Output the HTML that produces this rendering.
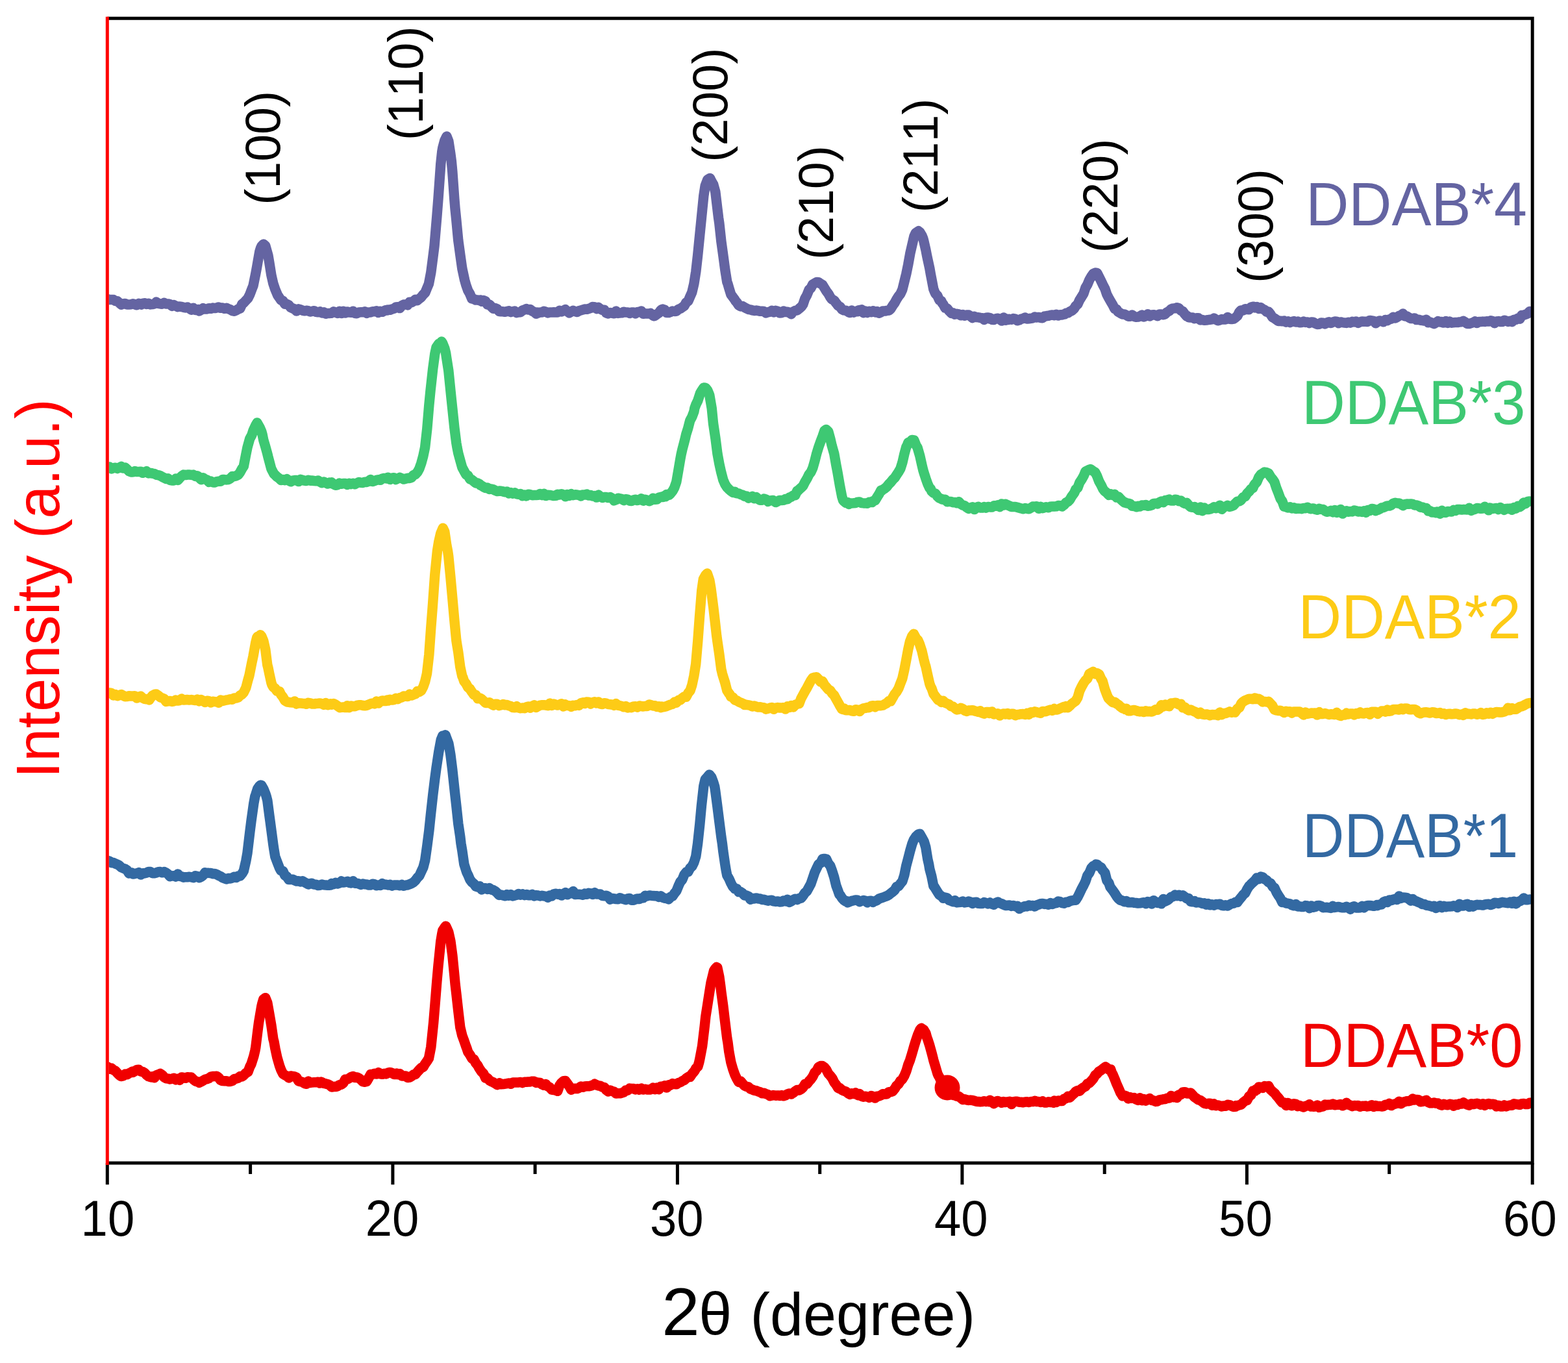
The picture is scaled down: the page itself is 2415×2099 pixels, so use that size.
<!DOCTYPE html>
<html><head><meta charset="utf-8"><title>XRD patterns of DDAB samples</title>
<style>html,body{margin:0;padding:0;background:#fff;overflow:hidden;} svg{display:block;font-kerning:none;}</style>
</head><body>
<svg width="2415" height="2099" viewBox="0 0 2415 2099" font-family="'Liberation Sans', Arial, Helvetica, sans-serif">
<rect width="2415" height="2099" fill="#fff"/>
<defs><clipPath id="plot"><rect x="167.6" y="0" width="2192" height="2099"/></clipPath></defs>
<g clip-path="url(#plot)" fill="none" stroke-width="15.5" stroke-linejoin="round" stroke-linecap="round">
<path d="M165.8,460.6 L168.8,461.6 L171.8,461.6 L174.8,461.6 L177.5,463.5 L180.8,463.7 L183.8,466.4 L186.8,469.2 L189.0,468.0 L192.8,467.5 L195.8,469.0 L198.8,469.0 L201.8,468.8 L204.8,467.7 L207.8,468.8 L210.8,469.8 L213.8,467.4 L216.8,468.4 L218.0,469.0 L219.8,467.4 L222.8,466.7 L225.8,468.5 L228.8,467.2 L231.8,468.9 L234.8,468.6 L237.8,468.0 L240.8,465.1 L243.8,467.4 L247.0,468.0 L249.8,468.2 L252.8,466.4 L255.8,468.0 L258.8,467.9 L261.8,468.6 L264.8,471.3 L267.8,469.6 L270.8,471.1 L273.8,472.7 L276.0,472.0 L279.8,472.5 L282.8,473.3 L285.8,473.9 L288.8,473.0 L291.8,475.1 L294.8,477.2 L297.8,474.2 L300.8,477.4 L303.8,476.7 L305.5,476.6 L306.8,479.0 L309.8,477.3 L312.8,474.7 L315.8,475.9 L318.8,476.0 L321.8,474.7 L324.8,475.3 L327.8,474.0 L330.8,474.6 L334.6,473.7 L336.8,473.0 L339.8,474.3 L342.8,474.0 L345.8,475.3 L348.8,474.3 L351.8,475.7 L354.8,476.8 L357.8,478.6 L360.8,479.3 L363.7,478.0 L366.8,476.0 L369.8,475.1 L372.8,468.3 L375.8,466.0 L378.0,463.5 L381.8,459.5 L384.8,453.5 L387.8,445.6 L390.0,440.0 L393.8,421.2 L395.7,411.0 L396.8,404.5 L399.8,387.6 L401.5,382.0 L402.8,379.2 L405.9,376.0 L408.8,378.6 L411.8,389.4 L413.0,393.7 L414.8,404.2 L417.8,423.3 L419.0,428.6 L420.8,436.5 L423.8,445.5 L427.7,454.8 L429.8,457.8 L432.8,462.3 L435.8,463.4 L438.8,468.3 L441.8,468.3 L444.8,469.9 L447.8,473.5 L451.0,475.0 L453.8,475.9 L456.8,479.1 L459.8,475.9 L462.8,476.7 L465.8,478.1 L468.8,478.8 L471.8,478.3 L474.8,478.7 L477.8,480.1 L480.0,479.5 L483.8,478.7 L486.8,480.3 L489.8,480.8 L492.8,479.9 L495.8,481.9 L498.8,480.8 L501.8,483.3 L504.8,482.5 L507.8,482.5 L509.0,482.4 L510.8,482.2 L513.8,479.9 L516.8,480.8 L519.8,482.4 L522.8,479.2 L525.8,482.6 L528.8,479.2 L531.8,482.1 L534.8,480.0 L538.0,481.0 L540.8,481.2 L543.8,479.2 L546.8,482.5 L549.8,482.7 L552.8,480.9 L555.8,480.7 L558.8,480.8 L561.8,479.8 L564.8,482.3 L567.0,481.0 L570.8,480.9 L573.8,479.8 L576.8,479.8 L579.8,478.7 L582.8,481.4 L585.8,479.4 L588.8,480.3 L591.8,478.7 L594.8,477.4 L596.4,478.0 L597.8,477.1 L600.8,477.2 L603.8,476.0 L606.8,475.3 L609.8,473.0 L612.8,472.7 L615.8,474.6 L618.8,470.7 L621.8,469.1 L625.5,469.0 L627.8,469.8 L630.8,465.3 L633.8,465.7 L636.8,464.0 L639.8,461.3 L642.8,462.7 L645.8,459.9 L648.8,457.7 L651.8,453.7 L654.8,450.7 L657.8,443.4 L660.4,437.3 L663.8,419.5 L666.8,396.6 L669.0,379.0 L672.8,334.0 L675.0,306.0 L678.8,252.4 L680.8,233.6 L681.8,227.8 L684.8,216.4 L688.0,210.0 L690.8,217.3 L693.8,236.7 L695.3,248.0 L696.8,264.2 L699.8,306.4 L701.0,321.0 L702.8,338.7 L705.8,370.4 L707.0,379.0 L708.8,392.2 L711.8,413.5 L715.7,431.5 L717.8,439.0 L720.8,447.5 L723.8,452.7 L726.8,460.0 L730.0,460.6 L732.8,462.1 L735.8,462.0 L738.8,462.8 L740.0,462.0 L741.8,464.3 L744.8,462.6 L747.8,463.9 L750.8,469.0 L753.8,469.0 L756.5,472.0 L759.8,475.3 L762.8,474.6 L765.8,475.9 L769.0,479.5 L771.8,479.8 L774.8,479.8 L777.8,480.3 L780.8,479.5 L783.8,478.8 L786.8,480.6 L789.8,479.7 L792.8,479.0 L795.8,481.6 L798.0,481.0 L801.8,480.8 L804.8,477.9 L807.8,477.0 L810.8,475.6 L812.7,476.6 L813.8,476.9 L816.8,476.5 L819.8,479.1 L822.8,480.4 L825.8,483.3 L827.3,481.0 L828.8,482.1 L831.8,480.9 L834.8,481.0 L837.8,479.3 L840.8,480.4 L843.8,481.9 L846.8,480.9 L849.8,481.1 L852.8,480.7 L856.4,481.0 L858.8,481.0 L861.8,478.3 L864.8,480.0 L867.8,478.3 L870.8,476.7 L873.8,479.7 L876.8,481.8 L879.8,480.0 L882.8,478.3 L885.5,479.5 L888.8,480.4 L891.8,478.7 L894.8,477.8 L897.8,476.9 L900.8,476.1 L903.8,476.3 L906.8,475.3 L909.8,474.3 L912.8,472.5 L914.6,473.7 L915.8,472.9 L918.8,475.5 L921.8,473.5 L924.8,476.0 L927.8,477.4 L930.8,477.2 L933.8,482.1 L936.8,482.9 L939.8,481.4 L943.7,482.4 L945.8,482.8 L948.8,479.1 L951.8,482.4 L954.8,481.9 L957.8,481.8 L960.8,480.2 L963.8,481.0 L966.8,480.9 L969.8,482.5 L972.8,481.0 L975.8,481.0 L978.8,482.9 L981.8,480.4 L984.8,480.7 L987.8,479.1 L990.8,483.3 L993.8,482.8 L996.8,483.0 L999.8,483.0 L1001.9,482.4 L1005.8,486.0 L1007.7,486.8 L1008.8,486.3 L1011.8,483.9 L1014.8,481.8 L1017.8,477.7 L1019.3,476.6 L1020.8,476.1 L1023.8,477.3 L1026.8,481.6 L1029.8,481.5 L1031.0,481.0 L1032.8,480.5 L1035.8,479.1 L1038.8,479.4 L1041.8,479.3 L1044.8,476.4 L1048.4,475.0 L1050.8,473.3 L1053.8,471.2 L1056.8,465.9 L1060.0,463.5 L1062.8,456.9 L1065.8,450.1 L1068.8,437.3 L1071.8,418.4 L1074.6,393.7 L1077.8,361.5 L1080.4,335.5 L1083.8,301.5 L1086.2,286.0 L1089.8,276.6 L1093.5,274.4 L1095.8,279.1 L1098.8,284.4 L1100.8,291.8 L1101.8,295.4 L1104.8,320.7 L1106.6,335.5 L1107.8,343.7 L1110.8,371.4 L1113.9,393.7 L1116.8,415.5 L1119.8,434.2 L1121.0,437.3 L1122.8,443.7 L1125.8,453.6 L1128.8,457.5 L1131.8,461.6 L1132.8,463.5 L1134.8,465.6 L1137.8,470.1 L1140.8,471.9 L1143.8,471.6 L1146.8,473.4 L1149.8,475.1 L1153.0,476.6 L1155.8,476.9 L1158.8,477.9 L1161.8,478.5 L1164.8,478.1 L1167.8,478.7 L1170.8,479.3 L1173.8,479.2 L1176.4,479.5 L1179.8,482.0 L1182.8,480.7 L1185.8,480.3 L1188.8,478.4 L1191.8,481.0 L1194.8,478.4 L1197.8,479.2 L1200.8,482.0 L1203.8,481.8 L1205.5,481.0 L1206.8,478.9 L1209.8,480.6 L1212.8,480.2 L1215.8,481.8 L1218.8,483.7 L1220.0,481.0 L1221.8,479.9 L1224.8,478.4 L1227.8,477.9 L1230.8,475.4 L1234.6,472.0 L1236.8,468.7 L1239.8,459.8 L1242.8,454.4 L1246.2,446.0 L1248.8,443.7 L1251.8,437.9 L1254.8,436.2 L1257.9,434.4 L1260.8,434.7 L1263.8,436.9 L1266.8,438.7 L1269.5,443.0 L1272.8,448.3 L1275.8,452.3 L1278.8,457.8 L1281.0,460.6 L1284.8,462.7 L1287.8,466.8 L1290.8,470.6 L1292.8,472.0 L1293.8,472.3 L1296.8,476.5 L1299.8,477.9 L1302.8,478.2 L1305.8,479.7 L1307.4,481.0 L1308.8,481.5 L1311.8,478.1 L1314.8,481.1 L1317.8,479.3 L1320.8,479.7 L1321.9,478.0 L1323.8,477.7 L1326.8,476.9 L1329.8,481.7 L1332.8,478.9 L1335.8,481.5 L1338.8,479.3 L1341.8,480.7 L1344.8,478.8 L1347.8,480.5 L1349.0,481.0 L1350.8,479.5 L1353.8,482.1 L1356.8,481.0 L1359.8,478.9 L1362.8,479.1 L1365.8,478.4 L1369.5,478.0 L1371.8,475.6 L1374.8,470.8 L1378.0,466.4 L1380.8,461.1 L1383.8,456.3 L1386.8,452.6 L1389.8,446.0 L1392.8,433.8 L1395.8,421.6 L1398.6,408.0 L1401.8,390.3 L1404.4,379.0 L1407.8,364.2 L1410.2,358.8 L1414.6,355.8 L1416.8,357.7 L1419.8,362.5 L1421.8,367.5 L1422.8,371.3 L1425.8,384.4 L1427.6,393.7 L1428.8,399.4 L1431.8,413.2 L1433.5,422.8 L1434.8,429.4 L1437.8,445.2 L1439.3,449.0 L1440.8,452.2 L1443.8,455.4 L1446.8,462.2 L1449.8,463.6 L1451.0,466.4 L1452.8,468.7 L1455.8,474.3 L1458.8,475.0 L1461.8,478.8 L1465.5,482.4 L1467.8,481.7 L1470.8,484.2 L1473.8,483.3 L1476.8,483.8 L1479.8,485.8 L1482.8,484.5 L1485.8,486.3 L1488.8,484.9 L1491.8,485.0 L1494.6,486.8 L1497.8,489.5 L1500.8,487.4 L1503.8,488.6 L1506.8,488.7 L1509.8,489.4 L1512.8,489.8 L1515.8,492.4 L1518.8,489.3 L1521.8,489.0 L1523.7,491.0 L1524.8,489.5 L1527.8,492.2 L1530.8,492.5 L1533.8,490.6 L1536.8,490.3 L1539.8,491.8 L1542.8,494.0 L1545.8,489.1 L1548.8,493.2 L1551.8,491.3 L1552.8,492.6 L1554.8,491.3 L1557.8,492.2 L1560.8,490.6 L1563.8,491.1 L1566.8,493.8 L1569.8,492.9 L1572.8,491.2 L1575.8,490.4 L1578.8,489.0 L1581.9,491.0 L1584.8,490.7 L1587.8,490.3 L1590.8,489.8 L1593.8,488.1 L1596.8,488.9 L1599.8,488.4 L1602.8,489.5 L1605.8,489.7 L1608.8,486.9 L1611.0,486.8 L1614.8,486.3 L1617.8,485.4 L1620.8,485.0 L1623.8,485.7 L1626.8,484.2 L1629.8,486.0 L1632.8,484.8 L1635.8,484.9 L1638.8,483.9 L1640.0,483.9 L1641.8,482.3 L1644.8,481.9 L1647.8,479.7 L1650.8,478.5 L1654.6,475.0 L1656.8,471.1 L1659.8,468.6 L1662.8,461.9 L1665.8,457.3 L1669.0,452.0 L1671.8,443.3 L1674.8,438.3 L1677.8,431.1 L1680.8,425.7 L1683.8,421.5 L1687.2,419.9 L1689.8,420.6 L1692.8,426.5 L1695.3,431.5 L1698.8,438.9 L1701.8,444.6 L1704.8,453.5 L1707.0,457.7 L1710.8,464.5 L1713.8,469.5 L1716.8,475.4 L1719.8,476.2 L1721.5,479.5 L1722.8,480.6 L1725.8,482.3 L1728.8,483.9 L1731.8,483.9 L1734.8,485.4 L1737.8,487.2 L1740.8,487.3 L1741.9,486.8 L1743.8,485.0 L1746.8,487.4 L1749.8,488.2 L1752.8,488.0 L1755.8,487.1 L1758.8,484.9 L1761.8,487.9 L1764.8,486.6 L1767.8,483.8 L1771.0,486.8 L1773.8,484.9 L1776.8,484.8 L1779.8,485.1 L1782.8,486.7 L1785.8,484.0 L1788.8,483.9 L1791.8,484.7 L1794.8,483.6 L1797.0,481.0 L1800.8,479.0 L1803.8,476.0 L1806.8,474.9 L1809.8,474.8 L1813.0,473.7 L1815.8,474.8 L1818.8,478.3 L1821.8,479.5 L1824.8,483.7 L1827.8,487.1 L1829.0,486.8 L1830.8,488.7 L1833.8,488.9 L1836.8,489.0 L1839.8,490.7 L1842.8,489.8 L1845.8,489.7 L1848.8,492.9 L1851.8,492.6 L1854.8,493.3 L1858.3,493.0 L1860.8,492.6 L1863.8,492.2 L1866.8,491.9 L1869.8,490.1 L1872.8,492.3 L1875.8,493.7 L1878.8,492.9 L1881.8,491.6 L1884.8,492.1 L1887.5,492.0 L1890.8,488.4 L1893.8,491.3 L1896.8,491.6 L1899.8,491.1 L1902.0,489.7 L1905.8,486.6 L1908.8,480.5 L1911.0,478.0 L1914.8,477.9 L1917.8,475.7 L1919.4,476.0 L1920.8,476.6 L1923.8,476.7 L1926.8,473.0 L1929.8,472.3 L1931.4,472.2 L1932.8,473.9 L1935.8,472.7 L1938.8,475.4 L1941.8,473.6 L1944.8,475.9 L1947.8,477.3 L1948.8,478.0 L1950.8,480.5 L1953.8,480.1 L1956.8,483.9 L1959.8,488.6 L1962.8,490.1 L1966.3,492.6 L1968.8,494.4 L1971.8,494.3 L1974.8,494.7 L1977.8,494.0 L1980.8,496.1 L1983.8,494.9 L1986.8,496.7 L1989.6,495.5 L1992.8,494.6 L1995.8,496.0 L1998.8,495.1 L2001.8,496.8 L2004.8,496.5 L2007.8,495.1 L2010.8,496.4 L2013.8,496.0 L2016.8,497.6 L2019.8,495.9 L2022.8,496.2 L2025.8,498.2 L2028.8,499.5 L2031.8,499.3 L2034.8,497.0 L2037.8,497.2 L2040.8,498.8 L2043.8,496.8 L2046.8,495.8 L2047.8,497.0 L2049.8,497.5 L2052.8,496.0 L2055.8,495.0 L2058.8,495.2 L2061.8,497.7 L2064.8,495.9 L2067.8,496.6 L2070.8,497.0 L2073.8,497.4 L2076.8,496.2 L2079.8,497.1 L2082.8,495.3 L2085.8,495.9 L2088.8,495.0 L2091.8,497.4 L2094.8,495.9 L2097.8,495.0 L2100.8,495.3 L2103.8,495.3 L2106.0,495.5 L2109.8,493.4 L2112.8,493.9 L2115.8,494.4 L2118.8,497.7 L2121.8,495.5 L2124.8,493.9 L2127.8,494.5 L2130.8,495.7 L2133.8,492.5 L2135.0,492.6 L2136.8,493.7 L2139.8,491.9 L2142.8,491.0 L2145.8,488.3 L2148.8,489.9 L2151.8,488.5 L2154.8,486.4 L2158.3,485.3 L2160.8,483.1 L2163.8,486.9 L2166.8,486.9 L2169.8,488.9 L2172.8,490.5 L2175.8,490.5 L2178.8,489.9 L2181.6,492.6 L2184.8,492.2 L2187.8,493.2 L2190.8,493.4 L2193.8,494.1 L2196.8,492.2 L2199.8,496.8 L2202.8,496.1 L2205.8,497.4 L2208.8,498.7 L2211.8,496.6 L2214.8,494.6 L2217.8,495.9 L2220.8,495.5 L2222.3,497.0 L2223.8,497.1 L2226.8,494.6 L2229.8,497.4 L2232.8,495.1 L2235.8,497.2 L2238.8,496.7 L2241.8,496.4 L2244.8,496.6 L2247.8,495.9 L2250.8,495.7 L2253.8,494.4 L2256.8,496.2 L2259.8,498.4 L2262.8,498.5 L2265.8,497.6 L2268.8,496.7 L2271.8,495.0 L2274.8,497.4 L2277.8,495.5 L2280.5,495.5 L2283.8,495.1 L2286.8,495.4 L2289.8,494.7 L2292.8,495.1 L2295.8,493.8 L2298.8,494.6 L2301.8,497.8 L2304.8,494.9 L2307.8,494.6 L2310.8,495.4 L2313.8,495.5 L2316.8,493.2 L2319.8,494.2 L2322.8,495.4 L2325.8,494.4 L2327.0,494.0 L2328.8,495.7 L2331.8,492.3 L2334.8,492.3 L2337.8,490.3 L2340.8,491.2 L2343.8,485.4 L2346.8,485.2 L2350.3,483.9 L2352.8,483.0 L2356.0,479.5" stroke="#6464A2"/>
<path d="M165.8,721.0 L168.8,719.1 L171.8,721.9 L174.8,720.6 L177.8,720.2 L180.8,721.6 L183.8,719.9 L186.8,718.5 L189.0,721.0 L192.8,720.1 L195.8,722.8 L198.8,725.7 L201.8,727.0 L203.6,727.0 L204.8,726.9 L207.8,725.5 L210.8,726.6 L213.8,726.5 L216.8,726.2 L219.8,728.3 L222.8,727.1 L225.8,725.6 L228.8,728.9 L232.7,728.4 L234.8,729.1 L237.8,729.6 L240.8,731.2 L243.8,731.6 L247.3,732.8 L249.8,734.3 L252.8,735.9 L255.8,737.5 L258.8,736.8 L261.8,739.4 L264.7,740.0 L267.8,739.9 L270.8,737.1 L273.8,739.5 L276.8,736.2 L279.8,733.1 L282.8,731.0 L285.8,731.6 L288.8,731.1 L291.0,731.0 L294.8,731.4 L297.8,731.1 L300.8,733.4 L303.8,732.7 L305.5,734.0 L306.8,735.6 L309.8,738.7 L312.8,735.8 L315.8,738.0 L318.8,739.1 L321.8,742.4 L324.8,741.1 L328.7,743.0 L330.8,742.9 L333.8,741.6 L336.8,741.2 L339.8,741.3 L342.8,738.6 L345.8,738.6 L348.8,738.9 L351.8,738.5 L354.8,736.8 L357.8,733.6 L360.8,733.7 L363.7,732.8 L366.8,731.3 L369.8,727.3 L372.8,721.8 L375.3,718.0 L378.8,699.9 L381.0,689.0 L384.8,675.4 L387.8,670.0 L390.0,663.0 L393.8,654.9 L396.0,651.0 L399.8,657.7 L402.8,664.6 L404.0,668.8 L405.8,677.7 L408.8,687.9 L411.8,698.8 L413.0,703.7 L414.8,710.4 L417.8,721.9 L420.8,727.6 L421.9,729.8 L423.8,731.4 L426.8,734.4 L429.8,736.5 L432.8,739.4 L436.4,738.6 L438.8,739.7 L441.8,737.6 L444.8,740.1 L447.8,741.7 L450.8,740.2 L453.8,739.6 L456.8,739.6 L459.8,741.6 L462.8,738.4 L465.8,739.4 L468.8,740.1 L471.8,740.6 L474.8,739.2 L477.8,740.3 L480.0,740.0 L483.8,740.5 L486.8,740.7 L489.8,740.0 L492.8,742.0 L495.8,743.7 L498.8,742.1 L501.8,743.5 L504.8,745.0 L507.8,743.1 L509.0,744.4 L510.8,743.1 L513.8,745.8 L516.8,747.2 L519.8,746.8 L522.8,744.1 L525.8,745.3 L528.8,744.5 L531.8,744.5 L534.8,746.3 L538.0,744.4 L540.8,745.6 L543.8,744.2 L546.8,745.7 L549.8,743.9 L552.8,742.5 L555.8,743.3 L558.8,743.5 L561.8,742.2 L564.8,742.4 L567.0,741.5 L570.8,738.4 L573.8,741.5 L576.8,740.6 L579.8,739.4 L582.8,738.7 L585.8,739.3 L588.8,737.0 L591.8,736.4 L594.8,736.8 L596.4,737.0 L597.8,735.3 L600.8,738.4 L603.8,736.2 L606.8,735.7 L609.8,738.5 L612.8,736.9 L615.8,735.4 L618.8,736.6 L621.8,738.1 L625.5,737.0 L627.8,736.3 L630.8,736.4 L633.8,735.4 L636.8,731.7 L639.8,730.5 L643.0,727.0 L645.8,721.8 L648.8,713.4 L651.8,702.4 L654.6,689.0 L657.8,660.3 L660.8,624.3 L663.0,601.8 L666.8,567.2 L669.8,545.0 L672.0,535.0 L675.8,529.5 L678.8,529.0 L680.0,526.0 L681.8,528.8 L684.8,536.3 L686.6,543.6 L687.8,551.7 L690.8,570.7 L693.8,600.5 L695.4,616.0 L696.8,629.4 L699.8,658.1 L702.8,682.0 L704.0,689.0 L705.8,698.0 L708.8,709.0 L711.8,719.8 L715.7,727.0 L717.8,730.8 L720.8,732.4 L723.8,737.8 L726.8,738.8 L730.0,741.5 L732.8,743.9 L735.8,744.1 L738.8,745.7 L740.0,747.3 L741.8,748.0 L744.8,749.9 L747.8,751.6 L750.8,751.1 L753.8,753.5 L756.5,753.0 L759.8,753.8 L762.8,755.4 L765.8,756.6 L769.0,756.0 L771.8,756.2 L774.8,756.9 L777.8,757.7 L780.8,757.0 L783.8,759.8 L786.8,758.6 L789.8,760.1 L792.8,758.9 L795.8,760.8 L798.8,761.2 L801.8,760.5 L804.8,763.8 L807.8,762.0 L810.8,763.9 L812.7,761.9 L813.8,761.2 L816.8,761.7 L819.8,762.8 L822.8,762.5 L825.8,762.6 L828.8,762.3 L831.8,760.6 L834.8,762.6 L837.8,760.3 L840.8,763.5 L843.8,762.3 L846.8,762.4 L849.8,763.0 L852.8,763.6 L856.4,763.3 L858.8,761.2 L861.8,762.0 L864.8,760.7 L867.8,761.9 L870.8,764.8 L873.8,761.5 L876.8,763.4 L879.8,760.8 L882.8,762.7 L885.8,761.8 L888.8,762.0 L891.8,762.6 L894.8,764.0 L897.0,761.9 L900.8,762.1 L903.8,761.0 L906.8,763.1 L909.8,762.4 L912.8,764.1 L915.8,763.5 L918.8,766.1 L921.8,762.1 L924.8,764.6 L927.8,766.5 L930.8,765.6 L933.8,765.5 L936.8,766.6 L939.8,765.6 L943.7,767.7 L945.8,770.8 L948.8,769.6 L951.8,767.2 L954.8,767.8 L957.8,768.6 L960.8,770.6 L963.8,768.7 L966.8,769.1 L969.8,771.2 L972.8,771.4 L975.8,770.0 L978.8,769.2 L981.5,770.6 L984.8,769.7 L987.8,767.8 L990.8,771.2 L993.8,769.3 L996.8,770.4 L999.8,771.7 L1002.8,770.5 L1005.8,767.3 L1008.8,769.2 L1011.8,769.0 L1014.8,766.2 L1017.8,765.3 L1020.8,765.6 L1023.8,763.2 L1025.0,764.8 L1026.8,761.4 L1029.8,761.4 L1031.0,762.0 L1032.8,760.1 L1036.0,756.0 L1038.8,750.8 L1040.5,745.8 L1041.8,742.0 L1045.2,722.3 L1047.8,707.0 L1049.3,698.9 L1050.8,692.4 L1053.8,681.0 L1055.2,675.5 L1056.8,668.6 L1059.8,659.1 L1061.6,652.0 L1062.8,647.4 L1065.8,642.0 L1068.8,634.1 L1069.8,628.6 L1071.8,623.2 L1074.8,617.0 L1078.6,605.2 L1080.8,601.6 L1083.8,597.2 L1085.0,597.0 L1086.8,597.5 L1089.8,601.2 L1091.5,605.2 L1092.8,608.7 L1096.2,628.6 L1098.5,652.0 L1102.0,675.5 L1105.0,698.9 L1107.8,714.1 L1109.6,722.3 L1110.8,727.6 L1113.8,738.9 L1116.7,745.8 L1119.8,750.6 L1122.8,753.6 L1125.0,755.5 L1128.8,758.4 L1131.8,757.3 L1132.8,759.0 L1134.8,759.8 L1137.8,760.0 L1140.8,761.4 L1143.8,762.2 L1146.8,764.2 L1149.8,764.1 L1152.8,767.1 L1155.8,765.6 L1158.8,764.4 L1161.9,767.7 L1164.8,765.7 L1167.8,768.5 L1170.8,770.3 L1173.8,770.2 L1176.8,768.1 L1179.8,769.1 L1182.8,772.4 L1185.8,770.9 L1188.8,770.6 L1191.0,770.6 L1194.8,773.5 L1197.8,772.0 L1200.8,770.4 L1203.8,770.4 L1206.8,770.3 L1209.8,768.5 L1211.3,769.0 L1212.8,768.7 L1215.8,766.2 L1218.8,765.2 L1221.8,762.9 L1224.8,762.7 L1227.8,756.0 L1228.8,756.0 L1230.8,753.8 L1233.8,751.2 L1236.8,748.2 L1239.8,742.3 L1242.8,737.3 L1245.8,731.1 L1249.0,727.0 L1251.8,720.6 L1254.8,710.2 L1257.8,698.2 L1260.8,688.5 L1263.7,680.4 L1266.8,672.3 L1269.8,663.5 L1272.4,661.5 L1275.8,664.7 L1278.8,675.8 L1281.2,686.2 L1284.8,698.9 L1287.8,716.1 L1289.9,727.0 L1293.8,749.6 L1296.8,764.9 L1298.6,770.6 L1299.8,771.9 L1302.8,774.5 L1305.8,773.9 L1307.4,776.4 L1308.8,775.3 L1311.8,774.9 L1314.8,774.8 L1317.8,774.5 L1320.0,773.5 L1323.8,772.9 L1326.8,774.6 L1329.8,774.9 L1332.8,774.9 L1335.8,775.2 L1338.8,773.3 L1341.8,773.3 L1343.3,773.5 L1344.8,771.5 L1347.8,770.8 L1350.8,765.7 L1353.8,761.1 L1356.8,755.1 L1357.8,756.0 L1359.8,753.9 L1362.8,752.2 L1365.8,749.6 L1368.8,745.8 L1371.8,742.8 L1374.8,738.9 L1378.2,735.7 L1380.8,731.5 L1383.8,727.0 L1386.8,721.9 L1389.8,712.4 L1392.8,699.3 L1395.8,688.2 L1397.0,686.2 L1398.8,681.6 L1401.8,680.5 L1404.4,677.5 L1407.8,678.0 L1410.8,685.5 L1413.0,689.0 L1416.8,702.1 L1419.8,715.6 L1421.8,724.0 L1422.8,727.4 L1425.8,736.7 L1428.8,745.3 L1431.8,751.7 L1433.5,753.0 L1434.8,756.4 L1437.8,759.3 L1440.8,760.0 L1443.8,764.4 L1446.8,767.2 L1449.8,768.1 L1451.0,769.0 L1452.8,769.2 L1455.8,769.3 L1458.8,772.8 L1461.8,772.4 L1464.8,772.4 L1467.8,773.8 L1471.3,773.5 L1473.8,774.7 L1476.8,772.7 L1479.8,776.3 L1482.8,778.0 L1485.8,778.8 L1488.8,781.4 L1491.8,783.4 L1494.6,782.2 L1497.8,780.8 L1500.8,784.6 L1503.8,781.5 L1506.8,780.4 L1509.8,782.0 L1512.8,782.1 L1515.8,780.5 L1518.8,782.1 L1521.8,780.4 L1523.7,780.8 L1524.8,780.9 L1527.8,781.1 L1530.8,778.8 L1533.8,779.2 L1536.8,777.9 L1539.8,780.7 L1542.8,775.9 L1545.8,778.1 L1547.0,776.4 L1548.8,776.3 L1551.8,777.9 L1554.8,779.0 L1557.8,780.5 L1560.8,780.5 L1563.8,780.4 L1566.8,781.2 L1570.2,782.2 L1572.8,782.9 L1575.8,783.8 L1578.8,782.6 L1581.8,783.3 L1584.8,783.8 L1587.8,782.1 L1590.8,780.0 L1593.8,780.2 L1596.8,779.8 L1599.8,783.3 L1602.8,780.2 L1605.8,782.6 L1608.8,781.6 L1611.0,780.8 L1614.8,781.8 L1617.8,780.3 L1620.8,779.9 L1623.8,780.0 L1626.8,779.8 L1629.8,778.5 L1632.8,778.7 L1635.8,780.1 L1637.0,777.9 L1638.8,777.6 L1641.8,774.1 L1644.8,772.4 L1647.8,769.4 L1650.8,764.2 L1654.6,759.0 L1656.8,753.7 L1659.8,751.2 L1662.8,743.1 L1665.8,738.7 L1669.1,732.8 L1671.8,726.1 L1674.8,724.5 L1677.8,723.2 L1679.3,722.6 L1680.8,723.3 L1683.8,725.6 L1686.8,727.4 L1689.5,732.8 L1692.8,741.4 L1695.8,746.7 L1698.8,753.0 L1701.0,756.0 L1704.8,759.1 L1707.8,762.4 L1710.8,760.9 L1713.8,762.6 L1715.7,761.9 L1716.8,761.3 L1719.8,766.0 L1722.8,765.0 L1725.8,768.5 L1728.8,771.3 L1731.8,773.9 L1733.0,773.5 L1734.8,774.9 L1737.8,775.2 L1740.8,776.2 L1743.8,779.3 L1746.8,779.4 L1750.6,780.8 L1752.8,779.2 L1755.8,780.0 L1758.8,778.1 L1761.8,778.3 L1764.8,777.5 L1767.8,779.2 L1770.8,778.9 L1773.9,777.9 L1776.8,775.4 L1779.8,775.3 L1782.8,776.0 L1785.8,773.4 L1788.8,772.0 L1791.8,773.5 L1794.8,770.4 L1797.2,770.6 L1800.8,769.0 L1803.8,771.1 L1806.8,771.1 L1809.8,769.2 L1812.8,769.7 L1814.6,771.0 L1815.8,771.8 L1818.8,771.1 L1821.8,773.8 L1824.8,775.4 L1827.8,774.4 L1830.8,778.1 L1833.8,780.8 L1836.8,781.2 L1839.8,780.5 L1842.8,783.3 L1844.0,783.7 L1845.8,785.6 L1848.8,781.0 L1851.8,786.7 L1854.8,782.1 L1857.8,784.4 L1860.8,784.6 L1863.8,784.0 L1866.8,782.8 L1869.8,780.9 L1872.8,782.7 L1875.8,780.8 L1878.8,778.2 L1881.8,784.2 L1884.8,781.3 L1887.7,780.0 L1890.8,778.3 L1893.8,780.4 L1896.8,779.5 L1899.8,778.3 L1902.8,775.0 L1905.8,772.1 L1908.8,771.7 L1911.0,770.6 L1914.8,765.6 L1917.8,764.7 L1920.8,759.8 L1923.8,756.9 L1926.8,753.0 L1929.8,751.6 L1931.4,747.3 L1932.8,745.4 L1935.8,742.2 L1938.8,734.8 L1941.8,730.8 L1944.8,729.1 L1947.4,727.0 L1950.8,727.7 L1953.8,728.9 L1956.8,734.0 L1960.5,738.6 L1962.8,742.0 L1965.8,751.3 L1968.8,758.9 L1972.0,767.7 L1974.8,771.7 L1977.8,780.0 L1980.8,780.8 L1983.8,781.9 L1986.8,780.8 L1989.8,782.9 L1992.8,781.9 L1995.8,783.5 L1998.8,783.0 L2001.8,783.2 L2004.8,783.7 L2007.8,782.4 L2010.8,782.7 L2013.8,781.3 L2016.8,783.0 L2018.7,783.7 L2019.8,783.6 L2022.8,782.9 L2025.8,784.5 L2028.8,785.2 L2031.8,783.3 L2034.8,784.3 L2037.8,784.5 L2040.8,786.8 L2043.8,788.3 L2046.8,787.6 L2049.8,786.4 L2052.8,788.9 L2055.8,785.6 L2058.8,789.4 L2061.8,787.0 L2064.8,784.5 L2067.8,791.1 L2071.0,788.0 L2073.8,786.7 L2076.8,788.2 L2079.8,787.6 L2082.8,787.9 L2085.8,785.9 L2088.8,786.7 L2091.8,788.0 L2094.8,787.5 L2097.8,788.5 L2100.8,786.9 L2103.8,789.4 L2106.8,785.5 L2109.8,786.4 L2112.8,783.5 L2115.8,784.0 L2118.8,786.8 L2120.5,785.0 L2121.8,785.5 L2124.8,784.1 L2127.8,782.0 L2130.8,781.6 L2133.8,780.2 L2136.8,778.9 L2139.8,779.1 L2142.8,777.8 L2145.8,775.3 L2148.8,774.2 L2152.5,775.0 L2154.8,774.9 L2157.8,776.4 L2160.8,778.6 L2163.8,776.7 L2166.8,776.1 L2169.8,776.3 L2172.8,775.9 L2175.8,776.4 L2178.7,777.9 L2181.8,778.1 L2184.8,778.9 L2187.8,781.3 L2190.8,781.0 L2193.8,782.5 L2196.8,782.4 L2199.8,787.0 L2202.8,786.7 L2205.8,789.1 L2208.8,788.5 L2211.8,789.7 L2213.6,788.0 L2214.8,788.9 L2217.8,791.2 L2220.8,786.3 L2223.8,789.0 L2226.8,789.4 L2229.8,787.6 L2232.8,787.7 L2235.8,788.0 L2238.8,785.4 L2241.8,786.4 L2244.8,784.5 L2247.8,784.5 L2251.4,785.0 L2253.8,784.6 L2256.8,784.8 L2259.8,784.9 L2262.8,782.3 L2265.8,786.3 L2268.8,785.0 L2271.8,784.2 L2274.8,782.6 L2277.8,782.8 L2280.8,783.3 L2283.8,783.0 L2286.8,780.3 L2289.8,783.2 L2292.8,785.8 L2295.0,782.2 L2298.8,783.5 L2301.8,782.9 L2304.8,782.5 L2307.8,784.5 L2310.8,781.6 L2313.8,783.5 L2316.8,785.3 L2319.8,783.4 L2322.8,783.2 L2324.2,783.7 L2325.8,783.1 L2328.8,785.3 L2331.8,781.7 L2334.8,783.1 L2337.8,779.5 L2340.8,780.7 L2343.8,778.4 L2346.8,773.9 L2349.8,775.5 L2352.8,772.5 L2356.0,772.0" stroke="#3EC873"/>
<path d="M165.8,1067.9 L168.8,1066.9 L171.8,1067.4 L174.8,1070.9 L177.8,1069.6 L180.8,1071.7 L183.8,1070.6 L186.8,1069.5 L189.0,1070.8 L192.8,1072.7 L195.8,1072.6 L198.8,1071.7 L201.8,1072.0 L204.8,1072.0 L207.8,1071.7 L210.8,1075.1 L213.8,1073.1 L216.8,1072.1 L218.2,1073.7 L219.8,1075.0 L222.8,1076.3 L225.8,1076.8 L228.8,1077.1 L229.8,1078.0 L231.8,1074.8 L234.8,1071.2 L238.6,1069.3 L240.8,1069.0 L243.8,1071.1 L246.8,1073.7 L249.8,1074.9 L252.8,1076.1 L255.8,1080.4 L258.8,1079.9 L261.8,1079.5 L264.8,1080.4 L267.8,1079.8 L270.8,1078.1 L273.8,1079.0 L276.8,1078.5 L279.8,1076.1 L282.8,1078.1 L285.8,1077.8 L288.8,1077.5 L291.0,1078.0 L294.8,1077.6 L297.8,1078.1 L300.8,1078.5 L303.8,1077.2 L306.8,1079.7 L309.8,1077.7 L312.8,1079.2 L315.8,1081.4 L318.8,1079.2 L321.8,1079.7 L324.8,1081.9 L327.8,1080.3 L330.8,1080.6 L334.6,1081.0 L336.8,1082.3 L339.8,1078.0 L342.8,1079.4 L345.8,1078.7 L348.8,1078.0 L351.8,1077.6 L354.8,1076.8 L357.8,1077.3 L360.8,1074.9 L363.7,1075.0 L366.8,1074.1 L369.8,1070.9 L372.8,1069.3 L375.3,1066.4 L378.8,1059.1 L381.8,1047.6 L384.0,1040.0 L387.8,1020.8 L389.9,1011.0 L393.8,989.5 L395.7,982.0 L396.8,980.3 L399.8,979.3 L401.0,977.7 L402.8,979.8 L405.8,987.0 L407.3,993.7 L408.8,1000.5 L411.8,1024.1 L413.0,1028.6 L414.8,1037.5 L417.8,1051.2 L419.0,1054.8 L420.8,1058.0 L423.8,1060.2 L426.8,1064.4 L430.6,1065.0 L432.8,1069.7 L435.8,1073.6 L438.8,1078.9 L442.2,1081.0 L444.8,1081.3 L447.8,1081.8 L450.8,1082.0 L453.8,1080.0 L456.8,1084.0 L459.8,1082.7 L462.8,1082.9 L465.8,1083.2 L468.8,1083.4 L471.8,1084.3 L474.8,1082.3 L477.8,1082.8 L480.0,1083.9 L483.8,1084.1 L486.8,1083.4 L489.8,1083.2 L492.8,1082.9 L495.8,1083.8 L498.8,1085.3 L501.8,1082.6 L504.8,1085.7 L507.8,1084.9 L509.0,1083.9 L510.8,1085.1 L513.8,1083.6 L516.8,1085.0 L519.8,1087.1 L523.7,1089.7 L525.8,1089.3 L528.8,1089.0 L531.8,1089.6 L534.8,1086.7 L537.8,1089.7 L540.8,1087.1 L543.8,1087.7 L546.8,1087.7 L549.8,1086.4 L552.8,1085.7 L555.8,1085.8 L558.8,1086.5 L561.8,1086.8 L564.8,1086.3 L567.3,1085.3 L570.8,1083.7 L573.8,1082.9 L576.8,1083.8 L579.8,1080.0 L582.8,1083.1 L585.8,1080.2 L588.8,1079.0 L591.8,1079.5 L594.8,1079.6 L596.4,1078.0 L597.8,1079.0 L600.8,1077.2 L603.8,1078.0 L606.8,1077.5 L609.8,1075.3 L612.8,1076.6 L615.8,1074.6 L618.8,1073.9 L621.8,1072.0 L625.5,1072.2 L627.8,1072.6 L630.8,1069.3 L633.8,1071.0 L636.8,1069.8 L639.8,1068.7 L642.8,1064.5 L645.8,1065.4 L648.8,1063.5 L651.8,1057.7 L654.8,1049.1 L657.5,1037.3 L660.8,1008.4 L663.8,966.3 L666.2,935.5 L669.8,885.1 L673.5,848.2 L675.8,834.3 L678.8,821.2 L682.2,813.3 L684.8,818.8 L687.8,839.6 L689.5,848.2 L690.8,857.2 L693.8,888.1 L696.8,921.0 L699.8,954.7 L702.8,986.0 L704.0,993.7 L705.8,1004.5 L708.8,1027.2 L711.8,1041.2 L712.8,1043.0 L714.8,1049.2 L717.8,1052.9 L720.8,1058.5 L723.8,1060.9 L727.4,1066.4 L729.8,1069.8 L732.8,1070.1 L735.8,1075.7 L738.8,1074.9 L741.9,1076.6 L744.8,1079.3 L747.8,1082.4 L750.8,1082.4 L753.8,1081.7 L756.4,1083.9 L759.8,1086.1 L762.8,1084.3 L765.8,1084.2 L768.8,1086.6 L771.8,1085.8 L774.8,1084.5 L777.8,1085.7 L780.8,1085.5 L783.6,1086.8 L786.8,1087.6 L789.8,1089.6 L792.8,1089.8 L795.8,1087.7 L798.2,1089.7 L801.8,1090.7 L804.8,1090.1 L807.8,1090.7 L810.8,1088.7 L813.8,1088.0 L816.8,1090.1 L819.8,1087.4 L822.8,1085.9 L825.8,1089.5 L827.3,1088.2 L828.8,1087.7 L831.8,1086.1 L834.8,1085.8 L837.8,1085.7 L840.8,1086.2 L843.8,1086.7 L846.8,1083.1 L849.8,1086.5 L852.8,1084.0 L856.4,1085.3 L858.8,1086.1 L861.8,1085.3 L864.8,1083.8 L867.8,1088.0 L870.8,1085.0 L873.8,1086.6 L876.8,1086.7 L879.8,1088.3 L882.8,1086.2 L885.5,1086.8 L888.8,1085.4 L891.8,1086.4 L894.8,1082.7 L897.8,1081.8 L900.8,1083.5 L903.0,1081.0 L906.8,1081.2 L909.8,1083.9 L912.8,1081.8 L915.8,1080.7 L918.8,1082.9 L921.8,1080.9 L924.8,1084.1 L927.8,1084.5 L930.8,1082.8 L933.8,1083.2 L936.8,1084.6 L939.8,1084.8 L943.7,1085.3 L945.8,1086.3 L948.8,1083.6 L951.8,1086.1 L954.8,1086.8 L957.8,1087.5 L960.8,1088.8 L963.8,1087.5 L966.8,1090.0 L969.8,1089.4 L972.8,1089.7 L975.8,1087.9 L978.8,1087.8 L981.8,1089.1 L984.8,1086.9 L987.8,1087.5 L990.8,1088.0 L993.8,1087.4 L996.8,1087.5 L999.8,1085.0 L1001.9,1085.3 L1005.8,1086.9 L1008.8,1086.7 L1011.8,1088.4 L1014.8,1087.7 L1017.8,1089.6 L1019.3,1088.2 L1020.8,1089.0 L1023.8,1088.4 L1026.8,1087.5 L1029.8,1086.2 L1032.8,1085.0 L1035.8,1084.4 L1038.8,1081.1 L1041.8,1082.1 L1045.5,1078.0 L1047.8,1078.0 L1050.8,1075.0 L1053.8,1072.9 L1056.8,1073.3 L1059.8,1067.4 L1063.0,1063.5 L1065.8,1055.0 L1068.8,1041.0 L1071.7,1022.8 L1074.8,986.8 L1077.5,950.0 L1080.8,909.0 L1083.3,891.8 L1086.8,885.6 L1089.2,883.1 L1092.8,893.6 L1095.0,906.4 L1098.8,935.7 L1101.8,962.0 L1103.7,979.0 L1104.8,987.0 L1107.8,1007.3 L1110.8,1030.4 L1112.4,1037.3 L1113.8,1042.2 L1116.8,1051.5 L1119.8,1063.3 L1122.8,1067.9 L1124.0,1069.3 L1125.8,1073.1 L1128.8,1073.9 L1131.8,1078.0 L1134.8,1078.9 L1137.8,1080.8 L1141.5,1082.4 L1143.8,1083.2 L1146.8,1085.5 L1149.8,1085.3 L1152.8,1085.8 L1155.8,1086.5 L1158.8,1087.9 L1161.8,1087.1 L1164.8,1088.1 L1167.8,1089.1 L1170.8,1088.8 L1173.8,1089.5 L1176.4,1089.7 L1179.8,1092.1 L1182.8,1091.3 L1185.8,1090.2 L1188.8,1089.6 L1191.8,1092.3 L1194.8,1090.1 L1197.8,1089.6 L1200.8,1090.1 L1203.8,1090.1 L1205.5,1089.7 L1206.8,1089.7 L1209.8,1092.0 L1212.8,1088.0 L1215.8,1089.3 L1218.8,1086.5 L1221.8,1089.0 L1224.8,1085.3 L1227.8,1084.3 L1228.8,1083.9 L1230.8,1083.6 L1233.8,1075.6 L1236.8,1070.1 L1240.4,1063.5 L1242.8,1059.6 L1245.8,1053.7 L1248.8,1048.2 L1251.8,1043.9 L1255.0,1043.1 L1257.8,1042.8 L1260.8,1046.2 L1263.8,1050.2 L1266.8,1049.3 L1269.8,1054.8 L1272.4,1057.7 L1275.8,1061.8 L1278.8,1063.5 L1281.8,1068.1 L1284.8,1070.8 L1287.0,1075.0 L1290.8,1081.7 L1293.8,1087.2 L1296.8,1092.1 L1298.6,1092.6 L1299.8,1090.9 L1302.8,1093.8 L1305.8,1093.7 L1308.8,1093.4 L1311.8,1094.9 L1314.8,1095.3 L1317.8,1092.7 L1320.8,1093.1 L1321.9,1094.0 L1323.8,1095.6 L1326.8,1092.4 L1329.8,1090.9 L1332.8,1090.4 L1335.8,1089.6 L1337.5,1089.7 L1338.8,1089.4 L1341.8,1087.2 L1344.8,1086.8 L1347.8,1088.8 L1350.8,1086.4 L1353.8,1086.5 L1356.8,1086.7 L1359.8,1086.2 L1363.6,1083.9 L1365.8,1082.9 L1368.8,1079.6 L1371.8,1079.8 L1375.3,1073.7 L1377.8,1069.1 L1380.8,1065.5 L1383.8,1060.4 L1387.0,1051.9 L1389.8,1044.8 L1392.8,1031.5 L1395.6,1017.0 L1398.8,999.7 L1401.5,987.8 L1404.8,979.4 L1407.3,976.2 L1410.8,982.7 L1413.8,985.8 L1416.0,990.8 L1419.8,1002.2 L1422.8,1015.3 L1424.7,1022.8 L1425.8,1026.2 L1428.8,1040.0 L1431.8,1053.0 L1433.5,1057.7 L1434.8,1059.8 L1437.8,1068.6 L1440.8,1072.5 L1443.8,1076.4 L1445.0,1078.0 L1446.8,1078.1 L1449.8,1081.2 L1452.8,1079.5 L1455.8,1082.3 L1459.7,1083.9 L1461.8,1084.7 L1464.8,1087.6 L1467.8,1088.2 L1471.3,1091.1 L1473.8,1092.9 L1476.8,1092.4 L1479.8,1090.4 L1482.8,1091.5 L1485.8,1094.2 L1488.8,1095.4 L1491.8,1094.0 L1494.6,1094.0 L1497.8,1093.7 L1500.8,1094.7 L1503.8,1095.5 L1506.8,1096.5 L1509.8,1094.7 L1512.8,1098.2 L1515.8,1099.1 L1518.8,1096.5 L1521.8,1096.6 L1523.7,1098.4 L1524.8,1097.7 L1527.8,1095.9 L1530.8,1099.9 L1533.8,1099.3 L1536.8,1098.8 L1539.8,1102.1 L1542.8,1099.8 L1545.8,1098.9 L1548.8,1100.0 L1551.8,1098.6 L1552.8,1099.9 L1554.8,1100.4 L1557.8,1099.2 L1560.8,1099.2 L1563.8,1101.6 L1566.8,1100.5 L1569.8,1100.2 L1572.8,1099.7 L1575.8,1099.4 L1578.8,1100.4 L1581.9,1098.4 L1584.8,1100.4 L1587.8,1096.8 L1590.8,1097.4 L1593.8,1095.8 L1596.8,1096.7 L1599.8,1097.5 L1602.8,1098.3 L1605.8,1095.4 L1608.8,1095.8 L1611.0,1095.5 L1614.8,1094.1 L1617.8,1093.1 L1620.8,1094.2 L1623.8,1091.5 L1626.8,1093.1 L1629.8,1092.4 L1632.8,1090.9 L1635.8,1089.7 L1638.8,1088.4 L1640.0,1089.7 L1641.8,1087.5 L1644.8,1089.7 L1647.8,1086.9 L1650.8,1083.7 L1654.6,1081.0 L1656.8,1079.4 L1659.8,1074.3 L1662.8,1063.9 L1665.8,1057.6 L1669.0,1051.9 L1671.8,1047.9 L1674.8,1045.1 L1677.8,1037.8 L1680.8,1036.1 L1683.7,1034.4 L1686.8,1037.8 L1689.8,1036.8 L1692.8,1038.5 L1695.8,1045.2 L1698.2,1049.0 L1701.8,1061.8 L1704.8,1069.8 L1707.0,1075.0 L1710.8,1078.9 L1713.8,1081.7 L1716.8,1081.2 L1718.6,1082.4 L1719.8,1083.9 L1722.8,1085.4 L1725.8,1088.4 L1728.8,1090.7 L1731.8,1091.1 L1733.2,1092.6 L1734.8,1091.2 L1737.8,1094.7 L1740.8,1094.8 L1743.8,1093.9 L1746.8,1093.4 L1749.8,1094.3 L1752.8,1095.4 L1755.8,1095.9 L1758.8,1095.6 L1761.8,1096.5 L1764.8,1094.8 L1767.8,1095.8 L1771.0,1095.5 L1773.8,1096.1 L1776.8,1094.6 L1779.8,1092.8 L1782.8,1093.3 L1785.8,1091.3 L1788.8,1085.7 L1791.3,1088.2 L1794.8,1085.2 L1797.8,1087.1 L1800.8,1087.7 L1803.8,1083.1 L1806.8,1083.0 L1809.8,1082.2 L1811.7,1082.4 L1812.8,1083.3 L1815.8,1085.1 L1818.8,1084.3 L1821.8,1089.7 L1824.8,1089.0 L1827.8,1092.3 L1829.2,1092.6 L1830.8,1094.0 L1833.8,1093.1 L1836.8,1094.5 L1839.8,1095.8 L1842.8,1097.2 L1845.8,1099.5 L1848.8,1097.3 L1851.8,1099.9 L1854.8,1100.5 L1858.3,1099.9 L1860.8,1100.5 L1863.8,1101.7 L1866.8,1100.4 L1869.8,1100.8 L1872.8,1100.3 L1875.8,1101.7 L1878.8,1097.1 L1881.8,1100.7 L1884.8,1098.6 L1887.8,1098.4 L1890.8,1097.3 L1893.8,1095.9 L1896.8,1097.3 L1899.8,1096.5 L1902.0,1097.0 L1905.8,1091.5 L1908.8,1089.7 L1911.8,1083.3 L1914.0,1081.0 L1917.8,1078.6 L1920.8,1077.4 L1923.8,1076.2 L1926.8,1076.3 L1929.8,1076.7 L1931.4,1076.6 L1932.8,1074.9 L1935.8,1076.5 L1938.8,1076.2 L1941.8,1078.1 L1944.8,1081.0 L1947.8,1080.4 L1951.7,1081.0 L1953.8,1080.3 L1956.8,1083.5 L1959.8,1086.8 L1962.8,1092.9 L1966.3,1094.0 L1968.8,1094.5 L1971.8,1094.2 L1974.8,1095.5 L1977.8,1097.4 L1980.8,1095.3 L1983.8,1096.0 L1986.8,1095.7 L1989.8,1098.0 L1992.8,1095.9 L1995.8,1096.0 L1998.8,1095.9 L2001.8,1096.0 L2004.8,1098.4 L2007.8,1101.0 L2010.8,1096.9 L2013.8,1099.3 L2016.8,1098.6 L2018.7,1098.4 L2019.8,1098.1 L2022.8,1098.3 L2025.8,1097.9 L2028.8,1101.1 L2031.8,1096.6 L2034.8,1099.5 L2037.8,1099.5 L2040.8,1098.5 L2043.8,1099.5 L2046.8,1100.5 L2049.8,1099.7 L2052.8,1100.1 L2055.8,1100.5 L2058.8,1097.3 L2061.8,1101.5 L2064.8,1102.5 L2067.8,1101.0 L2070.8,1101.1 L2073.8,1098.2 L2076.9,1099.9 L2079.8,1098.9 L2082.8,1099.1 L2085.8,1100.9 L2088.8,1098.6 L2091.8,1099.3 L2094.8,1097.0 L2097.8,1098.8 L2100.8,1098.9 L2103.8,1097.7 L2106.8,1097.4 L2109.8,1100.3 L2112.8,1096.3 L2115.8,1096.2 L2118.8,1096.2 L2120.5,1097.0 L2121.8,1099.4 L2124.8,1096.9 L2127.8,1095.1 L2130.8,1094.9 L2133.8,1096.1 L2136.8,1093.1 L2139.8,1095.3 L2142.8,1094.6 L2145.8,1092.4 L2148.8,1092.6 L2151.8,1092.4 L2154.8,1093.1 L2158.3,1091.1 L2160.8,1092.6 L2163.8,1091.0 L2166.8,1090.9 L2169.8,1092.5 L2172.8,1092.8 L2175.8,1092.5 L2178.8,1092.5 L2181.8,1094.0 L2184.8,1097.5 L2187.8,1098.7 L2190.8,1097.5 L2193.2,1097.0 L2196.8,1096.7 L2199.8,1097.4 L2202.8,1098.1 L2205.8,1096.7 L2208.8,1097.0 L2211.8,1098.5 L2214.8,1098.2 L2217.8,1097.5 L2220.8,1099.4 L2223.8,1098.8 L2226.8,1100.5 L2229.8,1099.4 L2232.8,1099.2 L2235.8,1099.8 L2238.8,1099.5 L2241.8,1099.0 L2244.8,1099.4 L2247.8,1100.8 L2251.4,1099.9 L2253.8,1101.4 L2256.8,1097.8 L2259.8,1099.4 L2262.8,1099.3 L2265.8,1099.9 L2268.8,1099.1 L2271.8,1098.9 L2274.8,1100.3 L2277.8,1099.5 L2280.8,1097.7 L2283.8,1100.5 L2286.8,1099.9 L2289.8,1097.9 L2292.8,1099.3 L2295.8,1097.3 L2298.8,1099.3 L2301.8,1097.4 L2304.8,1096.5 L2307.8,1096.7 L2309.6,1097.0 L2310.8,1097.1 L2313.8,1096.7 L2316.8,1096.0 L2319.8,1094.6 L2322.8,1090.2 L2325.8,1093.8 L2328.8,1090.6 L2331.8,1092.2 L2334.8,1092.3 L2338.7,1089.7 L2340.8,1088.5 L2343.8,1087.7 L2346.8,1086.5 L2349.8,1084.7 L2352.8,1083.3 L2356.2,1082.4" stroke="#FDCB16"/>
<path d="M165.8,1325.3 L168.8,1326.4 L171.8,1328.7 L174.8,1328.5 L177.8,1330.1 L180.8,1331.2 L183.3,1332.6 L186.8,1335.7 L189.8,1337.1 L192.8,1338.3 L195.8,1340.3 L198.8,1345.0 L201.8,1343.7 L203.6,1344.2 L204.8,1346.0 L207.8,1345.5 L210.8,1344.8 L213.8,1343.7 L216.8,1347.0 L219.8,1344.7 L222.8,1344.9 L225.8,1344.0 L228.8,1342.5 L231.8,1342.6 L234.8,1344.7 L237.8,1344.7 L240.8,1343.9 L243.8,1342.8 L246.8,1342.5 L249.8,1343.8 L252.8,1342.5 L256.0,1344.2 L258.8,1346.1 L261.8,1349.6 L264.8,1349.0 L267.8,1348.7 L270.6,1350.0 L273.8,1345.9 L276.8,1349.3 L279.8,1349.8 L282.8,1351.2 L285.8,1350.7 L288.8,1350.7 L291.8,1350.3 L294.8,1350.8 L297.8,1351.7 L300.8,1348.7 L303.8,1349.5 L305.5,1350.0 L306.8,1351.8 L309.8,1350.3 L312.8,1348.0 L315.8,1343.9 L318.8,1344.5 L320.0,1344.2 L321.8,1344.4 L324.8,1344.4 L327.8,1345.8 L330.8,1345.5 L334.6,1347.0 L336.8,1348.3 L339.8,1349.6 L342.8,1351.8 L346.2,1353.0 L348.8,1353.9 L351.8,1352.5 L354.8,1353.0 L357.8,1351.9 L360.8,1350.2 L363.7,1351.5 L366.8,1349.1 L369.8,1349.0 L372.8,1345.4 L375.3,1341.3 L378.8,1325.9 L381.0,1313.7 L384.8,1281.6 L387.0,1264.2 L390.8,1237.1 L392.8,1226.4 L393.8,1223.7 L396.8,1214.5 L399.8,1210.3 L401.5,1209.0 L402.8,1209.5 L405.8,1214.8 L408.8,1222.1 L410.2,1226.4 L411.8,1232.6 L414.8,1255.6 L416.0,1264.2 L417.8,1277.8 L420.8,1300.6 L421.9,1307.8 L423.8,1319.3 L426.8,1327.2 L430.6,1337.0 L432.8,1340.9 L435.8,1341.5 L438.8,1348.2 L441.8,1350.0 L444.8,1354.6 L448.0,1354.4 L450.8,1354.3 L453.8,1355.8 L456.8,1357.0 L459.8,1356.7 L462.8,1357.9 L465.8,1356.8 L468.8,1358.5 L471.8,1360.1 L474.8,1361.9 L477.8,1360.8 L480.0,1360.2 L483.8,1362.1 L486.8,1362.3 L489.8,1363.5 L492.8,1363.2 L495.8,1362.1 L498.8,1362.8 L501.8,1363.0 L504.8,1363.3 L507.8,1363.2 L509.0,1363.0 L510.8,1360.4 L513.8,1361.7 L516.8,1359.4 L519.8,1361.0 L522.8,1359.9 L525.8,1357.0 L528.8,1359.0 L531.8,1358.6 L535.3,1357.3 L537.8,1359.4 L540.8,1360.0 L543.8,1356.8 L546.8,1360.2 L549.8,1360.3 L552.8,1361.1 L555.8,1362.4 L558.8,1361.1 L561.8,1361.8 L564.8,1361.9 L567.3,1363.0 L570.8,1362.9 L573.8,1361.3 L576.8,1361.7 L579.8,1363.7 L582.8,1362.9 L585.8,1363.5 L588.8,1360.7 L591.8,1362.1 L594.8,1362.3 L597.8,1363.0 L600.8,1362.3 L603.8,1364.1 L606.8,1362.9 L609.8,1363.0 L612.8,1363.0 L615.8,1363.8 L618.8,1362.4 L621.8,1364.3 L625.5,1363.0 L627.8,1362.9 L630.8,1361.7 L633.8,1360.5 L636.8,1358.8 L639.8,1355.9 L643.0,1351.5 L645.8,1348.9 L648.8,1342.3 L651.8,1335.9 L654.6,1325.3 L657.8,1302.9 L660.8,1279.6 L663.3,1255.5 L666.8,1223.8 L669.8,1199.2 L672.0,1182.7 L675.8,1157.7 L679.3,1139.0 L681.8,1133.1 L684.8,1132.7 L686.0,1131.8 L687.8,1136.6 L690.8,1144.7 L692.4,1153.6 L693.8,1161.7 L696.8,1185.7 L699.8,1213.7 L701.2,1226.4 L702.8,1240.6 L705.8,1268.6 L708.8,1288.6 L710.0,1299.0 L711.8,1309.7 L714.8,1330.7 L718.6,1342.8 L720.8,1347.3 L723.8,1354.5 L726.8,1358.5 L729.8,1360.8 L732.8,1365.1 L736.0,1366.0 L738.8,1364.7 L741.8,1370.0 L744.8,1367.7 L747.8,1367.8 L750.8,1369.4 L753.8,1367.6 L757.5,1370.4 L759.8,1370.7 L762.8,1372.4 L765.8,1375.2 L768.8,1378.4 L771.8,1377.9 L775.0,1379.1 L777.8,1379.8 L780.8,1377.7 L783.8,1379.2 L786.8,1377.6 L789.8,1379.9 L792.8,1379.0 L795.8,1378.3 L798.8,1376.5 L801.8,1378.1 L804.8,1376.9 L807.8,1378.6 L810.8,1377.6 L812.7,1377.7 L813.8,1378.8 L816.8,1378.7 L819.8,1377.4 L822.8,1379.9 L825.8,1378.6 L828.8,1379.0 L831.8,1380.0 L834.8,1379.3 L837.8,1379.9 L840.8,1380.4 L841.8,1380.6 L843.8,1382.2 L846.8,1379.1 L849.8,1380.0 L852.8,1376.8 L856.4,1376.2 L858.8,1377.3 L861.8,1376.6 L864.8,1379.1 L867.8,1376.5 L870.8,1374.8 L873.8,1377.8 L876.8,1375.7 L879.8,1375.8 L882.8,1372.6 L885.8,1377.4 L888.8,1377.2 L891.8,1377.2 L894.8,1377.4 L897.8,1378.2 L900.8,1376.1 L903.8,1377.3 L906.8,1375.3 L909.8,1375.8 L912.8,1377.5 L914.6,1376.2 L915.8,1374.6 L918.8,1377.0 L921.8,1377.0 L924.8,1377.1 L927.8,1379.6 L930.8,1379.7 L933.8,1379.3 L936.8,1380.8 L939.8,1385.0 L943.7,1383.5 L945.8,1383.9 L948.8,1384.6 L951.8,1384.8 L954.8,1382.8 L957.8,1384.0 L960.8,1384.7 L963.8,1385.7 L966.8,1384.0 L969.8,1383.5 L972.8,1386.2 L975.8,1386.3 L978.6,1385.0 L981.8,1384.0 L984.8,1384.5 L987.8,1383.1 L990.8,1382.8 L993.8,1379.2 L996.8,1380.0 L999.8,1379.0 L1001.9,1379.1 L1005.8,1379.6 L1008.8,1379.8 L1011.8,1379.8 L1014.8,1381.4 L1017.8,1379.9 L1020.8,1382.2 L1023.8,1383.3 L1026.8,1383.6 L1029.8,1384.8 L1031.0,1383.5 L1032.8,1381.1 L1035.8,1380.2 L1038.8,1375.7 L1041.8,1372.1 L1045.5,1363.0 L1047.8,1358.1 L1050.8,1354.6 L1053.8,1347.2 L1057.1,1342.8 L1059.8,1342.7 L1062.8,1337.0 L1065.8,1334.2 L1068.8,1328.2 L1071.8,1318.6 L1074.6,1299.1 L1077.8,1269.3 L1080.4,1241.0 L1083.8,1210.5 L1086.2,1200.2 L1089.8,1196.3 L1092.6,1192.9 L1095.8,1196.8 L1098.8,1205.0 L1100.8,1211.8 L1101.8,1218.5 L1104.8,1241.2 L1106.6,1255.5 L1107.8,1265.0 L1110.8,1288.5 L1112.4,1299.1 L1113.8,1310.9 L1116.8,1331.5 L1118.2,1339.9 L1119.8,1347.9 L1122.8,1353.2 L1125.8,1360.0 L1128.8,1365.8 L1129.9,1366.0 L1131.8,1368.7 L1134.8,1368.7 L1137.8,1373.6 L1140.8,1373.6 L1143.8,1375.7 L1146.8,1378.9 L1149.8,1379.1 L1153.2,1380.6 L1155.8,1385.2 L1158.8,1383.2 L1161.8,1384.0 L1164.8,1382.9 L1167.8,1383.9 L1170.8,1384.1 L1173.8,1385.4 L1176.8,1385.3 L1179.8,1386.3 L1182.8,1387.2 L1185.8,1386.5 L1188.8,1386.2 L1191.0,1387.9 L1194.8,1388.4 L1197.8,1387.9 L1200.8,1388.9 L1203.8,1388.8 L1206.8,1387.0 L1209.8,1388.0 L1212.8,1385.2 L1215.8,1389.4 L1218.8,1387.8 L1221.8,1385.7 L1224.8,1384.2 L1227.8,1385.6 L1228.8,1385.0 L1230.8,1383.4 L1233.8,1383.2 L1236.8,1379.4 L1239.8,1374.9 L1242.8,1372.3 L1246.2,1366.0 L1248.8,1361.3 L1251.8,1352.5 L1254.8,1343.5 L1257.8,1337.2 L1260.8,1331.0 L1263.8,1329.2 L1266.8,1322.9 L1269.5,1322.4 L1272.8,1323.1 L1275.8,1329.7 L1278.8,1333.4 L1281.2,1339.9 L1284.8,1351.2 L1287.8,1363.8 L1290.8,1371.9 L1292.8,1377.7 L1293.8,1378.1 L1296.8,1383.0 L1299.8,1386.3 L1302.8,1388.3 L1304.4,1387.9 L1305.8,1389.8 L1308.8,1388.6 L1311.8,1387.4 L1314.8,1386.7 L1317.8,1385.9 L1320.8,1386.3 L1323.8,1388.6 L1326.8,1387.5 L1329.8,1386.5 L1332.8,1387.3 L1335.8,1389.8 L1338.8,1387.5 L1341.8,1387.2 L1344.8,1389.5 L1346.2,1387.9 L1347.8,1387.8 L1350.8,1386.4 L1353.8,1384.1 L1356.8,1383.0 L1359.8,1382.1 L1363.6,1380.6 L1365.8,1379.8 L1368.8,1378.2 L1371.8,1375.8 L1374.8,1373.5 L1378.2,1370.4 L1380.8,1365.6 L1383.8,1364.8 L1386.8,1360.8 L1389.8,1357.3 L1392.8,1347.7 L1395.8,1332.9 L1398.6,1322.4 L1401.8,1310.0 L1404.8,1299.6 L1407.3,1293.3 L1410.8,1288.2 L1414.6,1284.6 L1416.8,1284.3 L1419.8,1289.5 L1423.3,1296.2 L1425.8,1304.7 L1428.8,1323.3 L1430.6,1331.0 L1431.8,1338.2 L1434.8,1349.5 L1437.8,1364.6 L1439.3,1366.0 L1440.8,1368.5 L1443.8,1373.3 L1446.8,1378.0 L1449.8,1379.9 L1451.0,1380.6 L1452.8,1383.1 L1455.8,1382.1 L1458.8,1383.0 L1461.8,1386.4 L1464.8,1387.3 L1467.8,1388.6 L1470.8,1386.7 L1473.8,1389.9 L1476.8,1389.6 L1480.0,1389.3 L1482.8,1388.0 L1485.8,1389.9 L1488.8,1389.4 L1491.8,1388.0 L1494.8,1389.1 L1497.8,1391.4 L1500.8,1389.5 L1503.8,1389.3 L1506.8,1391.3 L1509.8,1391.5 L1512.8,1391.6 L1515.8,1389.5 L1518.8,1390.5 L1521.8,1391.9 L1523.7,1390.8 L1524.8,1390.0 L1527.8,1392.1 L1530.8,1393.2 L1533.8,1390.3 L1536.8,1389.0 L1539.8,1390.8 L1542.8,1391.7 L1545.8,1393.2 L1548.8,1394.6 L1551.8,1394.2 L1554.8,1393.9 L1557.8,1395.4 L1560.8,1394.4 L1563.8,1395.9 L1566.8,1395.4 L1569.8,1399.6 L1572.8,1397.5 L1576.0,1396.6 L1578.8,1395.4 L1581.8,1395.9 L1584.8,1394.1 L1587.8,1394.9 L1590.8,1394.5 L1593.8,1396.0 L1596.8,1393.9 L1599.8,1393.0 L1602.8,1391.8 L1605.8,1391.5 L1608.8,1392.4 L1611.0,1392.2 L1614.8,1393.1 L1617.8,1390.7 L1620.8,1392.5 L1623.8,1391.2 L1626.8,1390.7 L1629.8,1388.0 L1632.8,1388.6 L1635.8,1390.7 L1638.8,1391.2 L1641.8,1389.3 L1644.8,1389.5 L1647.8,1387.6 L1650.8,1386.9 L1654.6,1386.4 L1656.8,1386.2 L1659.8,1381.6 L1662.8,1375.5 L1665.8,1369.2 L1669.1,1363.0 L1671.8,1357.4 L1674.8,1348.3 L1677.8,1344.2 L1680.8,1337.0 L1683.8,1333.6 L1686.8,1333.1 L1688.0,1331.1 L1689.8,1331.4 L1692.8,1334.3 L1695.8,1335.7 L1698.2,1339.9 L1701.8,1344.0 L1704.8,1355.9 L1707.8,1359.7 L1709.9,1366.0 L1713.8,1371.1 L1716.8,1375.4 L1719.8,1380.3 L1722.8,1384.0 L1725.8,1386.5 L1727.3,1386.4 L1728.8,1387.3 L1731.8,1388.7 L1734.8,1387.6 L1737.8,1389.8 L1740.8,1389.7 L1743.8,1389.4 L1746.8,1390.2 L1749.8,1390.5 L1752.8,1391.0 L1756.4,1390.8 L1758.8,1390.2 L1761.8,1389.8 L1764.8,1391.6 L1767.8,1388.5 L1770.8,1389.6 L1773.8,1392.1 L1776.8,1386.8 L1779.8,1389.0 L1782.8,1390.4 L1785.5,1389.3 L1788.8,1391.8 L1791.8,1384.5 L1794.8,1388.0 L1797.8,1386.6 L1800.8,1384.3 L1803.8,1381.4 L1806.8,1380.7 L1809.8,1378.1 L1812.8,1379.6 L1814.6,1378.5 L1815.8,1378.2 L1818.8,1380.3 L1821.8,1378.9 L1824.8,1381.3 L1827.8,1383.7 L1830.8,1383.6 L1833.8,1388.3 L1836.8,1388.8 L1839.8,1387.7 L1842.0,1390.0 L1845.8,1389.6 L1848.8,1390.1 L1851.8,1391.4 L1854.8,1390.8 L1857.8,1393.2 L1860.8,1391.5 L1863.8,1393.8 L1866.8,1392.8 L1869.8,1394.1 L1872.8,1392.6 L1875.8,1392.8 L1878.8,1392.2 L1881.8,1394.3 L1884.8,1394.8 L1887.5,1393.7 L1890.8,1395.0 L1893.8,1393.1 L1896.8,1391.6 L1899.8,1391.1 L1902.8,1389.2 L1905.8,1389.4 L1908.0,1386.4 L1911.8,1381.8 L1914.8,1377.8 L1917.8,1375.4 L1920.8,1369.3 L1923.8,1364.6 L1925.6,1363.0 L1926.8,1361.5 L1929.8,1358.8 L1932.8,1356.0 L1935.8,1351.9 L1938.8,1353.5 L1941.8,1350.1 L1943.0,1351.5 L1944.8,1350.9 L1947.8,1354.1 L1950.8,1355.5 L1953.8,1358.7 L1956.8,1360.0 L1960.5,1366.0 L1962.8,1367.0 L1965.8,1373.7 L1968.8,1378.8 L1971.8,1383.1 L1974.8,1389.4 L1978.0,1389.3 L1980.8,1391.0 L1983.8,1391.3 L1986.8,1391.8 L1989.8,1393.9 L1992.8,1394.8 L1995.8,1392.5 L1998.8,1395.9 L2001.8,1395.7 L2004.8,1396.6 L2007.8,1396.4 L2010.8,1394.6 L2013.8,1394.9 L2016.8,1398.7 L2018.7,1396.6 L2019.8,1394.9 L2022.8,1397.2 L2025.8,1396.5 L2028.8,1394.8 L2031.8,1394.4 L2034.8,1395.3 L2037.8,1397.7 L2040.8,1397.4 L2043.8,1397.2 L2046.8,1397.9 L2049.8,1398.4 L2052.8,1395.2 L2055.8,1397.4 L2058.8,1396.9 L2061.8,1396.4 L2064.8,1397.3 L2067.8,1397.8 L2070.8,1397.7 L2073.8,1396.2 L2076.9,1398.0 L2079.8,1400.4 L2082.8,1396.6 L2085.8,1395.7 L2088.8,1397.9 L2091.8,1398.1 L2094.8,1397.7 L2097.8,1395.5 L2100.8,1397.7 L2103.8,1395.2 L2106.8,1394.4 L2109.8,1394.6 L2112.8,1394.8 L2115.8,1395.3 L2118.8,1394.7 L2120.5,1393.7 L2121.8,1394.6 L2124.8,1392.9 L2127.8,1393.0 L2130.8,1389.2 L2133.8,1387.9 L2136.8,1389.6 L2139.8,1386.0 L2142.8,1386.3 L2143.8,1386.4 L2145.8,1385.2 L2148.8,1384.3 L2151.8,1385.5 L2154.8,1379.9 L2157.8,1383.4 L2161.2,1382.0 L2163.8,1382.2 L2166.8,1382.7 L2169.8,1384.5 L2172.8,1386.9 L2175.8,1384.5 L2178.8,1387.3 L2181.8,1388.1 L2184.5,1389.3 L2187.8,1390.7 L2190.8,1392.5 L2193.8,1392.4 L2196.8,1394.2 L2199.8,1394.4 L2202.8,1395.2 L2205.8,1396.3 L2207.8,1396.6 L2208.8,1395.2 L2211.8,1398.5 L2214.8,1396.4 L2217.8,1394.8 L2220.8,1397.7 L2223.8,1395.3 L2226.8,1396.7 L2229.8,1395.9 L2232.8,1396.1 L2235.8,1395.8 L2238.8,1394.8 L2241.8,1395.3 L2244.8,1397.5 L2247.8,1392.2 L2250.8,1394.7 L2253.8,1395.0 L2256.8,1393.0 L2259.8,1392.4 L2262.8,1396.5 L2266.0,1393.7 L2268.8,1396.0 L2271.8,1394.0 L2274.8,1393.3 L2277.8,1393.6 L2280.8,1393.6 L2283.8,1394.1 L2286.8,1393.0 L2289.8,1392.5 L2292.8,1392.3 L2295.8,1393.5 L2298.8,1392.6 L2301.8,1390.2 L2304.8,1390.4 L2307.8,1391.4 L2309.6,1390.8 L2310.8,1390.2 L2313.8,1389.3 L2316.8,1389.8 L2319.8,1390.3 L2322.8,1390.7 L2325.8,1389.2 L2328.8,1391.3 L2331.8,1388.3 L2334.8,1391.9 L2337.8,1388.9 L2340.8,1387.8 L2343.8,1386.2 L2346.8,1383.0 L2349.8,1385.8 L2352.8,1385.7 L2356.2,1385.0" stroke="#3369A2"/>
<path d="M165.8,1643.0 L168.8,1646.2 L171.8,1645.0 L174.8,1647.9 L177.5,1648.8 L180.8,1652.6 L183.8,1655.8 L186.2,1657.5 L189.8,1656.9 L192.8,1654.1 L195.8,1654.8 L198.8,1652.8 L201.8,1651.4 L203.6,1650.2 L204.8,1651.3 L207.8,1649.5 L210.8,1647.4 L213.8,1647.2 L215.3,1648.8 L216.8,1649.9 L219.8,1650.6 L222.8,1652.3 L225.8,1655.5 L228.8,1657.7 L232.7,1659.0 L234.8,1657.8 L237.8,1659.8 L240.8,1655.9 L244.4,1654.6 L246.8,1653.4 L249.8,1655.4 L252.8,1658.9 L255.8,1660.8 L258.8,1661.1 L261.8,1661.9 L264.8,1661.4 L267.8,1660.3 L270.8,1662.8 L273.8,1661.3 L276.8,1663.4 L279.8,1659.0 L282.8,1659.4 L285.8,1660.3 L288.8,1658.8 L291.0,1659.0 L294.8,1659.1 L297.8,1662.4 L300.8,1664.8 L303.8,1665.8 L305.5,1666.2 L306.8,1667.3 L309.8,1665.8 L312.8,1664.2 L315.8,1662.3 L318.8,1661.6 L321.8,1660.5 L324.8,1658.2 L328.7,1657.5 L330.8,1657.4 L333.8,1657.3 L336.8,1659.5 L339.8,1663.5 L342.8,1664.6 L346.2,1664.8 L348.8,1664.8 L351.8,1665.5 L354.8,1665.5 L357.8,1664.5 L360.8,1661.7 L363.8,1661.1 L366.8,1660.3 L369.8,1657.6 L372.8,1657.9 L375.3,1656.0 L378.8,1652.3 L381.8,1651.0 L384.8,1642.9 L387.0,1638.6 L390.8,1626.6 L392.8,1618.2 L393.8,1612.9 L396.8,1588.2 L398.6,1574.6 L399.8,1567.4 L402.8,1549.7 L403.8,1545.5 L405.8,1538.8 L408.8,1536.7 L411.8,1544.4 L414.6,1560.0 L417.8,1578.6 L420.8,1599.7 L421.9,1603.7 L423.8,1614.4 L426.8,1628.3 L430.6,1641.5 L432.8,1647.5 L435.8,1653.7 L439.3,1656.0 L441.8,1657.1 L444.8,1659.9 L447.8,1656.9 L451.0,1657.5 L453.8,1657.9 L456.8,1659.3 L459.8,1664.9 L462.8,1665.6 L465.5,1666.2 L468.8,1668.4 L471.8,1669.2 L474.8,1665.1 L477.8,1667.5 L480.8,1666.9 L483.8,1666.7 L486.8,1666.8 L489.8,1666.2 L492.8,1668.1 L494.6,1666.2 L495.8,1666.7 L498.8,1668.3 L501.8,1668.9 L504.8,1669.7 L507.8,1671.0 L510.8,1674.0 L513.8,1673.5 L516.8,1673.3 L517.9,1673.5 L519.8,1672.8 L522.8,1670.8 L525.8,1670.1 L528.8,1667.8 L531.8,1662.3 L534.8,1662.1 L537.8,1660.6 L540.8,1658.4 L544.0,1657.5 L546.8,1659.6 L549.8,1658.9 L552.8,1660.4 L555.8,1662.7 L558.8,1665.6 L561.5,1666.2 L564.8,1665.4 L567.8,1660.1 L570.8,1654.6 L573.2,1654.6 L576.8,1653.2 L579.8,1653.9 L582.8,1651.7 L585.8,1653.8 L588.8,1654.3 L591.8,1653.3 L594.8,1653.9 L597.8,1652.1 L600.8,1651.4 L603.8,1652.4 L606.8,1654.5 L609.8,1654.3 L611.0,1653.1 L612.8,1654.7 L615.8,1653.5 L618.8,1656.9 L621.8,1656.9 L624.8,1657.0 L627.8,1659.5 L631.3,1659.0 L633.8,1657.4 L636.8,1655.0 L639.8,1654.5 L642.8,1650.9 L645.8,1647.5 L648.8,1644.4 L651.8,1643.4 L654.8,1638.2 L657.8,1634.0 L660.4,1629.9 L663.8,1612.4 L667.7,1574.6 L669.8,1549.4 L672.8,1511.9 L675.0,1487.3 L678.8,1449.7 L680.8,1437.8 L681.8,1433.0 L684.8,1428.4 L686.6,1426.2 L687.8,1428.7 L690.8,1435.5 L693.9,1449.5 L696.8,1471.0 L699.8,1501.5 L701.2,1516.4 L702.8,1530.0 L705.8,1556.8 L708.8,1582.1 L710.0,1587.0 L711.8,1594.6 L714.8,1602.7 L717.8,1611.5 L718.8,1614.0 L720.8,1620.1 L723.8,1624.4 L726.8,1629.7 L728.0,1631.0 L729.8,1631.3 L732.8,1637.1 L735.8,1640.7 L738.0,1645.0 L741.8,1650.6 L744.8,1653.6 L746.0,1656.0 L747.8,1660.0 L750.8,1660.2 L754.0,1664.0 L756.8,1665.6 L759.8,1666.8 L762.8,1668.6 L765.8,1670.6 L767.0,1670.0 L768.8,1667.8 L771.8,1669.8 L774.8,1669.6 L777.8,1669.1 L780.8,1668.6 L783.8,1668.0 L786.8,1669.2 L789.8,1667.0 L792.8,1667.1 L796.0,1667.0 L798.8,1666.9 L801.8,1666.4 L804.8,1667.6 L807.8,1666.2 L810.8,1666.3 L813.8,1666.0 L816.0,1666.0 L819.8,1665.2 L822.8,1665.3 L825.8,1667.4 L828.8,1667.1 L831.8,1667.5 L834.8,1670.0 L837.8,1671.3 L840.8,1669.6 L841.8,1672.0 L843.8,1672.9 L846.8,1674.6 L849.8,1678.0 L852.8,1678.5 L856.4,1679.3 L858.8,1680.3 L861.8,1671.5 L864.8,1667.4 L868.0,1664.8 L870.8,1664.6 L873.8,1668.7 L876.8,1672.8 L879.8,1678.2 L882.6,1676.4 L885.8,1676.2 L888.8,1676.6 L891.8,1675.3 L894.8,1673.1 L897.8,1674.2 L900.8,1673.0 L903.8,1672.7 L906.8,1672.8 L909.8,1672.2 L912.8,1671.1 L914.6,1670.6 L915.8,1669.3 L918.8,1670.9 L921.8,1672.0 L924.8,1672.3 L927.8,1674.2 L930.8,1674.4 L933.8,1678.7 L936.8,1680.8 L939.8,1679.0 L943.7,1680.8 L945.8,1681.2 L948.8,1684.0 L951.8,1683.8 L955.3,1683.7 L957.8,1683.0 L960.8,1682.1 L963.8,1679.0 L966.8,1679.2 L969.8,1676.1 L972.8,1676.4 L975.8,1676.6 L978.8,1677.9 L981.8,1676.7 L984.8,1678.2 L987.8,1676.1 L990.8,1678.1 L993.8,1677.3 L996.8,1678.0 L999.8,1678.0 L1001.9,1677.9 L1005.8,1675.3 L1008.8,1677.8 L1011.8,1675.1 L1014.8,1677.7 L1017.8,1673.2 L1020.8,1673.5 L1023.8,1671.9 L1026.8,1675.1 L1029.8,1670.8 L1031.0,1672.0 L1032.8,1670.9 L1035.8,1668.6 L1038.8,1669.5 L1041.8,1669.8 L1044.8,1667.7 L1048.4,1666.5 L1050.8,1664.8 L1053.8,1663.4 L1056.8,1660.7 L1060.7,1658.0 L1062.8,1658.5 L1065.8,1653.9 L1068.8,1650.4 L1070.5,1648.0 L1071.8,1645.2 L1074.8,1642.5 L1076.7,1636.0 L1077.8,1631.0 L1081.6,1611.0 L1083.8,1592.5 L1085.3,1580.0 L1086.8,1565.6 L1090.2,1544.0 L1092.8,1527.2 L1095.1,1513.0 L1099.5,1495.0 L1101.8,1491.4 L1103.7,1489.5 L1104.8,1490.0 L1107.8,1504.3 L1109.8,1519.0 L1110.8,1527.4 L1113.8,1549.4 L1116.0,1568.0 L1119.8,1598.9 L1120.9,1605.0 L1122.8,1619.7 L1125.8,1635.8 L1128.8,1646.4 L1131.8,1654.9 L1134.4,1660.4 L1137.8,1666.5 L1140.8,1665.1 L1143.8,1668.9 L1146.7,1672.0 L1149.8,1673.4 L1152.8,1673.9 L1155.8,1676.9 L1158.8,1678.0 L1161.9,1679.3 L1164.8,1679.7 L1167.8,1681.0 L1170.8,1681.8 L1173.8,1683.8 L1176.8,1683.3 L1179.8,1684.7 L1182.8,1685.6 L1185.8,1687.8 L1188.8,1687.0 L1191.0,1686.6 L1194.8,1687.2 L1197.8,1686.9 L1200.8,1687.5 L1203.8,1686.6 L1206.8,1687.8 L1209.8,1686.9 L1212.8,1684.8 L1215.8,1683.9 L1218.8,1685.0 L1220.0,1683.7 L1221.8,1683.2 L1224.8,1680.4 L1227.8,1678.4 L1230.8,1679.0 L1233.8,1677.3 L1236.8,1674.7 L1239.8,1669.5 L1242.8,1669.4 L1246.2,1664.8 L1248.8,1662.2 L1251.8,1657.8 L1254.8,1651.7 L1257.9,1648.8 L1260.8,1643.1 L1263.8,1641.6 L1266.6,1641.5 L1269.8,1643.8 L1272.8,1647.4 L1275.8,1653.4 L1278.3,1656.0 L1281.8,1660.5 L1284.8,1666.7 L1287.8,1670.5 L1290.8,1675.5 L1292.8,1676.4 L1293.8,1675.8 L1296.8,1678.6 L1299.8,1680.1 L1302.8,1680.9 L1305.8,1683.4 L1308.8,1685.3 L1311.8,1683.7 L1314.8,1684.5 L1317.8,1682.9 L1320.8,1686.2 L1321.9,1686.6 L1323.8,1684.5 L1326.8,1688.2 L1329.8,1689.2 L1332.8,1688.2 L1335.8,1689.0 L1337.5,1689.5 L1338.8,1690.4 L1341.8,1687.5 L1344.8,1688.7 L1347.8,1691.0 L1350.8,1688.2 L1353.8,1688.1 L1356.8,1686.7 L1359.8,1684.7 L1363.6,1685.1 L1365.8,1684.8 L1368.8,1681.7 L1371.8,1681.6 L1374.8,1680.6 L1378.2,1676.4 L1380.8,1672.1 L1383.8,1669.5 L1386.8,1664.6 L1389.8,1661.9 L1392.8,1656.8 L1395.8,1649.6 L1398.8,1639.5 L1401.5,1632.8 L1404.8,1622.0 L1407.8,1611.3 L1410.2,1603.7 L1413.8,1593.0 L1416.8,1586.1 L1419.0,1583.3 L1422.8,1585.9 L1425.8,1590.9 L1427.7,1597.8 L1428.8,1600.7 L1431.8,1610.0 L1434.8,1620.9 L1436.4,1627.0 L1437.8,1632.7 L1440.8,1642.8 L1443.8,1652.9 L1445.1,1656.0 L1446.8,1658.9 L1449.8,1665.6 L1452.8,1669.0 L1456.7,1675.0 L1458.8,1676.7 L1461.8,1681.4 L1464.8,1682.7 L1467.8,1686.6 L1470.8,1686.8 L1473.8,1688.3 L1476.8,1688.3 L1480.0,1691.0 L1482.8,1693.4 L1485.8,1692.7 L1488.8,1693.8 L1491.8,1694.4 L1494.8,1694.1 L1497.8,1694.4 L1500.8,1695.2 L1503.8,1696.3 L1506.8,1696.4 L1509.8,1696.7 L1512.8,1696.6 L1515.8,1695.7 L1518.8,1696.4 L1521.8,1695.7 L1523.7,1696.8 L1524.8,1694.3 L1527.8,1696.5 L1530.8,1699.7 L1533.8,1696.4 L1536.8,1695.4 L1539.8,1696.8 L1542.8,1698.3 L1545.8,1696.6 L1548.8,1697.5 L1551.8,1696.9 L1554.8,1696.4 L1557.8,1700.6 L1560.8,1696.9 L1563.8,1696.2 L1566.8,1696.2 L1569.8,1697.3 L1572.8,1697.3 L1575.8,1697.7 L1578.8,1697.0 L1581.9,1696.8 L1584.8,1697.5 L1587.8,1696.5 L1590.8,1696.6 L1593.8,1695.3 L1596.8,1696.5 L1599.8,1696.5 L1602.8,1697.5 L1605.8,1695.9 L1608.8,1697.9 L1611.8,1698.1 L1614.8,1696.7 L1617.8,1697.4 L1620.8,1697.2 L1622.6,1698.2 L1623.8,1695.1 L1626.8,1697.4 L1629.8,1695.0 L1632.8,1695.4 L1635.8,1695.6 L1638.8,1692.3 L1641.8,1691.5 L1644.8,1688.5 L1647.8,1690.0 L1650.8,1687.0 L1654.6,1683.7 L1656.8,1680.9 L1659.8,1679.4 L1662.8,1680.2 L1665.8,1676.8 L1668.8,1674.6 L1671.8,1673.1 L1674.8,1668.9 L1677.9,1667.7 L1680.8,1664.6 L1683.8,1661.3 L1686.8,1655.9 L1689.8,1653.5 L1692.4,1650.2 L1695.8,1648.2 L1698.8,1645.8 L1702.6,1643.0 L1704.8,1644.3 L1707.8,1647.2 L1710.8,1647.1 L1712.8,1653.1 L1713.8,1654.3 L1716.8,1661.4 L1719.8,1669.2 L1722.8,1675.9 L1725.8,1682.9 L1727.3,1685.1 L1728.8,1687.8 L1731.8,1687.0 L1734.8,1688.1 L1737.8,1691.9 L1740.8,1689.8 L1741.9,1691.0 L1743.8,1691.3 L1746.8,1690.5 L1749.8,1693.1 L1752.8,1694.3 L1755.8,1690.8 L1758.8,1694.7 L1761.8,1692.7 L1764.8,1695.0 L1767.8,1693.0 L1770.8,1691.7 L1773.8,1694.3 L1776.8,1694.9 L1779.8,1696.4 L1782.8,1696.0 L1785.5,1693.9 L1788.8,1693.5 L1791.8,1692.8 L1794.8,1692.5 L1797.8,1691.2 L1800.8,1691.0 L1803.8,1687.4 L1806.8,1689.7 L1809.8,1688.5 L1812.8,1690.6 L1814.6,1687.0 L1815.8,1686.0 L1818.8,1685.7 L1821.8,1682.0 L1824.8,1681.7 L1826.4,1682.2 L1827.8,1684.0 L1830.8,1683.8 L1833.8,1683.0 L1836.8,1686.3 L1839.8,1689.7 L1842.8,1691.5 L1845.8,1693.8 L1848.8,1694.6 L1851.8,1696.8 L1854.8,1699.1 L1858.5,1700.0 L1860.8,1699.2 L1863.8,1699.2 L1866.8,1702.2 L1869.8,1700.0 L1872.8,1702.6 L1875.8,1701.9 L1878.8,1702.8 L1881.8,1704.0 L1884.8,1702.9 L1887.8,1703.2 L1890.8,1701.3 L1893.8,1701.6 L1896.8,1703.3 L1899.8,1704.4 L1902.8,1704.3 L1904.0,1702.6 L1905.8,1702.8 L1908.8,1701.7 L1911.8,1700.9 L1914.8,1697.6 L1917.8,1695.3 L1919.7,1693.9 L1920.8,1694.2 L1923.8,1688.4 L1926.8,1686.3 L1929.8,1680.1 L1932.8,1680.2 L1934.3,1677.9 L1935.8,1678.2 L1938.8,1674.0 L1941.8,1674.2 L1944.8,1675.4 L1947.8,1672.6 L1948.8,1673.5 L1950.8,1673.2 L1953.8,1672.5 L1956.8,1677.9 L1959.8,1680.8 L1963.4,1683.7 L1965.8,1687.2 L1968.8,1690.3 L1971.8,1694.4 L1975.0,1698.2 L1977.8,1698.1 L1980.8,1702.5 L1983.8,1698.5 L1986.8,1701.9 L1989.8,1702.8 L1992.8,1699.7 L1995.8,1700.4 L1998.8,1703.6 L2001.8,1702.6 L2004.8,1703.9 L2007.8,1705.0 L2010.8,1703.4 L2013.8,1702.7 L2016.8,1700.7 L2018.7,1704.0 L2019.8,1702.9 L2022.8,1704.3 L2025.8,1704.1 L2028.8,1701.9 L2031.8,1705.4 L2034.8,1704.4 L2037.8,1703.8 L2040.8,1701.1 L2043.8,1701.7 L2046.8,1701.3 L2049.8,1701.2 L2052.8,1700.1 L2055.8,1701.8 L2058.8,1701.4 L2062.3,1701.1 L2064.8,1700.5 L2067.8,1702.8 L2070.8,1701.6 L2073.8,1698.3 L2076.8,1701.1 L2079.8,1702.1 L2082.8,1703.6 L2085.8,1702.4 L2088.8,1702.7 L2091.8,1702.5 L2094.8,1704.3 L2097.8,1703.2 L2100.8,1703.2 L2103.8,1703.1 L2106.0,1704.0 L2109.8,1703.3 L2112.8,1701.8 L2115.8,1704.4 L2118.8,1702.6 L2121.8,1703.6 L2124.8,1703.4 L2127.8,1704.0 L2130.8,1703.5 L2133.8,1701.2 L2136.8,1701.3 L2139.8,1699.5 L2142.8,1702.6 L2145.8,1700.7 L2149.6,1699.7 L2151.8,1699.0 L2154.8,1696.3 L2157.8,1699.8 L2160.8,1697.3 L2163.8,1696.6 L2166.8,1695.7 L2169.8,1695.7 L2172.8,1695.0 L2175.8,1692.1 L2178.7,1693.9 L2181.8,1693.4 L2184.8,1693.7 L2187.8,1696.8 L2190.8,1696.4 L2193.8,1695.5 L2196.8,1694.4 L2199.8,1697.5 L2202.8,1698.7 L2205.8,1698.7 L2208.8,1698.0 L2211.8,1699.1 L2214.8,1699.0 L2217.8,1701.1 L2220.8,1702.1 L2222.3,1701.1 L2223.8,1700.2 L2226.8,1701.3 L2229.8,1701.7 L2232.8,1700.3 L2235.8,1700.6 L2238.8,1703.2 L2241.8,1700.8 L2244.8,1701.4 L2247.8,1699.7 L2250.8,1700.1 L2253.8,1697.9 L2256.8,1699.8 L2259.8,1701.2 L2262.8,1702.2 L2266.0,1699.7 L2268.8,1700.6 L2271.8,1699.9 L2274.8,1699.3 L2277.8,1700.0 L2280.8,1701.2 L2283.8,1699.8 L2286.8,1702.2 L2289.8,1700.2 L2292.8,1699.5 L2295.8,1700.7 L2298.8,1700.2 L2301.8,1700.7 L2304.8,1703.9 L2307.8,1702.3 L2309.6,1702.6 L2310.8,1704.0 L2313.8,1704.1 L2316.8,1701.9 L2319.8,1704.0 L2322.8,1702.7 L2325.8,1702.0 L2328.8,1702.3 L2331.8,1699.8 L2334.8,1700.3 L2337.8,1700.8 L2340.8,1701.3 L2343.8,1699.7 L2346.8,1699.6 L2349.8,1700.4 L2352.8,1700.5 L2356.2,1698.2" stroke="#F00000"/>
</g>
<circle cx="1459" cy="1675" r="19.5" fill="#F00000"/>
<path d="M165.3,1791 V1824.2 M385.6,1791 V1808 M604.9,1791 V1824.2 M824.1,1791 V1808 M1043.4,1791 V1824.2 M1262.7,1791 V1808 M1481.9,1791 V1824.2 M1701.2,1791 V1808 M1920.4,1791 V1824.2 M2139.7,1791 V1808 M2360.2,1791 V1824.2" stroke="#000" stroke-width="5" stroke-linecap="butt"/>
<path d="M165.3,28.3 H2360.2 V1791 H165.3" fill="none" stroke="#000" stroke-width="5"/>
<line x1="165.3" y1="25.8" x2="165.3" y2="1794" stroke="#FF0000" stroke-width="5"/>
<g font-size="77.64" text-anchor="middle" fill="#000">
<text transform="translate(165.9,1903.4) scale(0.9563,1)">10</text>
<text transform="translate(604.0,1903.4) scale(0.9563,1)">20</text>
<text transform="translate(1042.2,1903.4) scale(0.9563,1)">30</text>
<text transform="translate(1480.3,1903.4) scale(0.9563,1)">40</text>
<text transform="translate(1918.4,1903.4) scale(0.9563,1)">50</text>
<text transform="translate(2356.4,1903.4) scale(0.9563,1)">60</text>
</g>
<text transform="translate(1019.3,2055.8) scale(1.0054,1)" font-size="104.43" fill="#000">2</text>
<text transform="translate(1076.2,2055.3) scale(0.9935,1)" font-size="92.17" fill="#000">θ</text>
<text transform="translate(1155.4,2055.6) scale(0.995,1)" font-size="92.16" fill="#000">(degree)</text>
<text transform="translate(90.8,1198.5) rotate(-90) scale(0.9835,1)" font-size="93.75" fill="#FF0000">Intensity (a.u.)</text>
<text transform="translate(2011.3,347.1) scale(0.9687,1)" font-size="94.46" fill="#6464A2">DDAB*4</text>
<text transform="translate(2004.9,652.8) scale(0.9672,1)" font-size="95.64" fill="#3EC873">DDAB*3</text>
<text transform="translate(1999.6,983.2) scale(0.9603,1)" font-size="96.01" fill="#FDCB16">DDAB*2</text>
<text transform="translate(2006.1,1320.3) scale(0.9161,1)" font-size="97.3" fill="#3369A2">DDAB*1</text>
<text transform="translate(2003.0,1642.8) scale(0.9619,1)" font-size="95.64" fill="#F00000">DDAB*0</text>
<g font-size="76.74" text-anchor="middle" fill="#000">
<text transform="translate(430.6,227.9) rotate(-90) scale(0.9823,1)">(100)</text>
<text transform="translate(650.8,128.4) rotate(-90) scale(0.9823,1)">(110)</text>
<text transform="translate(1120.4,161.7) rotate(-90) scale(0.9823,1)">(200)</text>
<text transform="translate(1282.6,312.1) rotate(-90) scale(0.9823,1)">(210)</text>
<text transform="translate(1443.7,239.5) rotate(-90) scale(0.9823,1)">(211)</text>
<text transform="translate(1721.0,301.6) rotate(-90) scale(0.9823,1)">(220)</text>
<text transform="translate(1960.0,348.1) rotate(-90) scale(0.9823,1)">(300)</text>
</g>
</svg>
</body></html>
